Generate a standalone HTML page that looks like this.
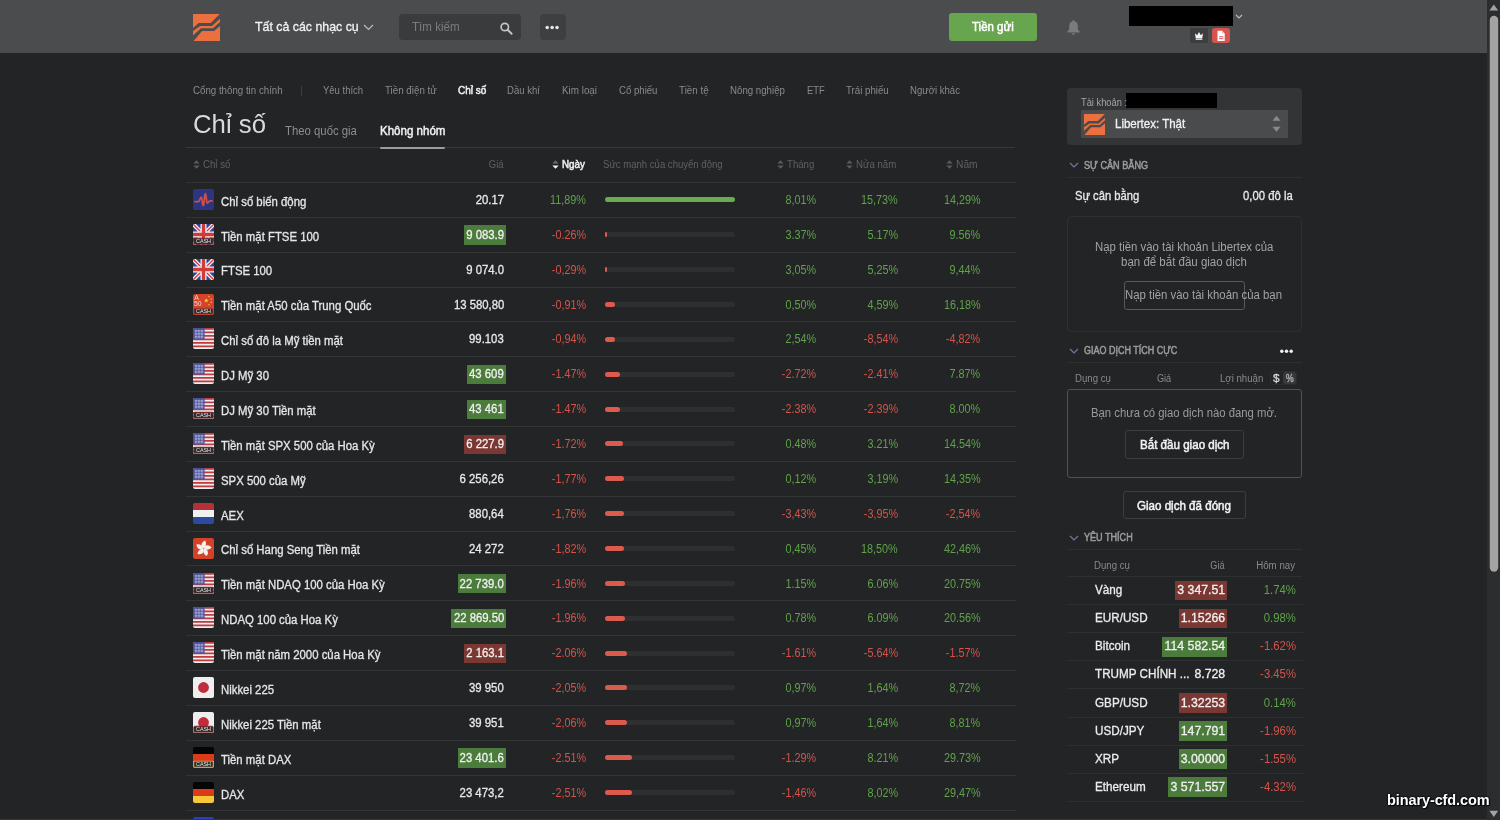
<!DOCTYPE html>
<html><head><meta charset="utf-8"><style>
html,body{margin:0;padding:0;}
body{width:1500px;height:820px;overflow:hidden;position:relative;background:#232426;font-family:"Liberation Sans", sans-serif;}
</style></head><body><div style="position:absolute;left:0;top:0;width:1500px;height:820px;will-change:transform">
<div style="position:absolute;left:0px;top:0px;width:1487px;height:53px;background:#4b4c4e;border-radius:0px;"></div>
<svg style="position:absolute;left:193px;top:14px" width="27" height="27" viewBox="0 0 27 27">
<polygon points="0,0 26.7,0 17.9,9.1 5.65,9.1 0,13.9" fill="#ec6f3f"/>
<polygon points="0,17.1 7.25,12.1 18.9,12.1 27,4.7 27,7.9 20.1,14.3 8.05,14.3 0,21.5" fill="#ec6f3f"/>
<polygon points="0.6,27 9.07,17.1 21.1,17.1 27,11.9 27,27" fill="#ec6f3f"/>
</svg>
<svg style="position:absolute;left:363px;top:24px" width="11" height="7" viewBox="0 0 11 7"><polyline points="1,1 5.5,5.5 10,1" fill="none" stroke="#bdbdbd" stroke-width="1.2"/></svg>
<div style="position:absolute;left:399px;top:14px;width:122px;height:26px;background:#3a3b3d;border-radius:4px;"></div>
<svg style="position:absolute;left:499px;top:21px" width="15" height="15" viewBox="0 0 15 15"><circle cx="5.8" cy="6" r="3.7" fill="none" stroke="#c4c4c4" stroke-width="1.7"/><line x1="8.6" y1="8.8" x2="12.6" y2="12.8" stroke="#c4c4c4" stroke-width="2" stroke-linecap="round"/></svg>
<div style="position:absolute;left:540px;top:14px;width:26px;height:26px;background:#3e3f41;border-radius:4px;"></div>
<svg style="position:absolute;left:540px;top:14px" width="26" height="26" viewBox="0 0 26 26"><circle cx="7.2" cy="13.6" r="1.75" fill="#e8e8e8"/><circle cx="12.1" cy="13.6" r="1.75" fill="#e8e8e8"/><circle cx="17" cy="13.6" r="1.75" fill="#e8e8e8"/></svg>
<div style="position:absolute;left:949px;top:13px;width:88px;height:28px;background:#68a54f;border-radius:3px;"></div>
<svg style="position:absolute;left:1066px;top:19px" width="15" height="17" viewBox="0 0 15 17"><path d="M7.5 1.2 C8.3 1.2 8.6 1.8 8.6 2.3 C10.8 2.9 11.8 4.8 11.8 7.2 L11.8 10.6 L13.6 12.6 L13.6 13.4 L1.4 13.4 L1.4 12.6 L3.2 10.6 L3.2 7.2 C3.2 4.8 4.2 2.9 6.4 2.3 C6.4 1.8 6.7 1.2 7.5 1.2 Z" fill="#7b7b7b"/><rect x="6.3" y="14" width="2.4" height="2" rx="1" fill="#7b7b7b"/></svg>
<div style="position:absolute;left:1129px;top:6px;width:104px;height:20px;background:#000000;border-radius:0px;"></div>
<svg style="position:absolute;left:1235px;top:14px" width="8" height="6" viewBox="0 0 8 6"><polyline points="1,1 4,4 7,1" fill="none" stroke="#bdbdbd" stroke-width="1.1"/></svg>
<div style="position:absolute;left:1190px;top:28px;width:18px;height:15px;background:#3c3d3f;border-radius:2px;"></div>
<svg style="position:absolute;left:1194px;top:31px" width="10" height="9" viewBox="0 0 10 9"><path d="M1 2.2 L3.2 4.2 L5 1 L6.8 4.2 L9 2.2 L8.3 7.2 L1.7 7.2 Z" fill="#f4f4f4"/><rect x="1.7" y="7.6" width="6.6" height="1.2" fill="#f4f4f4"/></svg>
<div style="position:absolute;left:1212px;top:28px;width:18px;height:15px;background:#d9534f;border-radius:3px;"></div>
<svg style="position:absolute;left:1216px;top:30px" width="10" height="12" viewBox="0 0 10 12"><path d="M1.5 0.8 L6 0.8 L8.7 3.5 L8.7 11 L1.5 11 Z" fill="#ffffff"/><path d="M6 0.8 L6 3.5 L8.7 3.5" fill="#f0c0be"/><rect x="3" y="6.3" width="4.3" height="0.9" fill="#d9534f"/><rect x="3" y="8.2" width="4.3" height="0.9" fill="#d9534f"/></svg>
<div style="position:absolute;left:1487px;top:0px;width:13px;height:820px;background:#2c2d2f;border-radius:0px;"></div>
<svg style="position:absolute;left:1487px;top:0px" width="13" height="820" viewBox="0 0 13 820"><polygon points="2.4,10.6 11.2,10.6 6.8,4.4" fill="#a3a3a3"/><polygon points="2.4,810.8 11.2,810.8 6.8,817" fill="#a3a3a3"/><rect x="2.75" y="15.8" width="8.45" height="556" rx="4.2" fill="#a3a3a3"/></svg>
<div style="position:absolute;left:301px;top:86px;width:1px;height:10px;background:#3d3e40;border-radius:0px;"></div>
<div style="position:absolute;left:186px;top:147px;width:829px;height:1px;background:#38393b;border-radius:0px;"></div>
<div style="position:absolute;left:380px;top:147px;width:65px;height:2px;background:#9c9c9c;border-radius:1px;"></div>
<svg style="position:absolute;left:193px;top:160px" width="7" height="9" viewBox="0 0 7 9"><polygon points="0.3,3.6 6.7,3.6 3.5,0.2" fill="#5a5b5d"/><polygon points="0.3,5.4 6.7,5.4 3.5,8.8" fill="#5a5b5d"/></svg>
<svg style="position:absolute;left:551.5px;top:160px" width="7" height="9" viewBox="0 0 7 9"><polygon points="0.3,3.6 6.7,3.6 3.5,0.2" fill="#6a6b6d"/><polygon points="0.3,5.4 6.7,5.4 3.5,8.8" fill="#f2f2f2"/></svg>
<svg style="position:absolute;left:777px;top:160px" width="7" height="9" viewBox="0 0 7 9"><polygon points="0.3,3.6 6.7,3.6 3.5,0.2" fill="#5a5b5d"/><polygon points="0.3,5.4 6.7,5.4 3.5,8.8" fill="#5a5b5d"/></svg>
<svg style="position:absolute;left:846px;top:160px" width="7" height="9" viewBox="0 0 7 9"><polygon points="0.3,3.6 6.7,3.6 3.5,0.2" fill="#5a5b5d"/><polygon points="0.3,5.4 6.7,5.4 3.5,8.8" fill="#5a5b5d"/></svg>
<svg style="position:absolute;left:946px;top:160px" width="7" height="9" viewBox="0 0 7 9"><polygon points="0.3,3.6 6.7,3.6 3.5,0.2" fill="#5a5b5d"/><polygon points="0.3,5.4 6.7,5.4 3.5,8.8" fill="#5a5b5d"/></svg>
<div style="position:absolute;left:186px;top:182px;width:830px;height:1px;background:#333436;border-radius:0px;"></div>
<svg style="position:absolute;left:193px;top:189px" width="21" height="21" viewBox="0 0 21 21"><rect width="21" height="21" rx="2" fill="#2c3680"/><path d="M1.9 12.6 L5.4 12.6 C6.9 12.6 7 8.2 8.1 8.2 C9.3 8.2 9.2 16.7 10.3 16.7 C11.4 16.7 11.2 4.7 12.3 4.7 C13.4 4.7 13.2 14.2 14.4 14.2 C15.4 14.2 15.6 11.9 16.9 11.9 L19 11.9" fill="none" stroke="#c9504c" stroke-width="1.8" stroke-linejoin="round" stroke-linecap="round"/></svg>
<div style="position:absolute;left:604.6px;top:197px;width:130.19999999999993px;height:5px;background:#2e2f31;border-radius:2.5px;"></div>
<div style="position:absolute;left:604.6px;top:197px;width:130.0px;height:5px;background:#6aaa50;border-radius:2.5px;"></div>
<div style="position:absolute;left:186px;top:217px;width:830px;height:1px;background:#333436;border-radius:0px;"></div>
<svg style="position:absolute;left:193px;top:224px" width="21" height="21" viewBox="0 0 21 21"><rect width="21" height="21" rx="2" fill="#2b3f9e"/><path d="M0 0 L21 21 M21 0 L0 21" stroke="#f2f2f2" stroke-width="4"/><path d="M0 0 L21 21 M21 0 L0 21" stroke="#d03a3a" stroke-width="1.4"/><path d="M10.5 0 V21 M0 10.5 H21" stroke="#f2f2f2" stroke-width="6"/><path d="M10.5 0 V21 M0 10.5 H21" stroke="#d03a3a" stroke-width="3.4"/><rect x="0.8" y="14.2" width="19.4" height="6" rx="1" fill="#2d2d2f" stroke="#8a2a2a" stroke-width="0.8"/><text x="10.5" y="19.3" text-anchor="middle" font-family="Liberation Sans" font-size="5.4" fill="#e8e8e8">CASH</text></svg>
<div style="position:absolute;left:604.6px;top:232px;width:130.19999999999993px;height:5px;background:#2e2f31;border-radius:2.5px;"></div>
<div style="position:absolute;left:604.6px;top:232px;width:2.6000000000000227px;height:5px;background:#dd5a4c;border-radius:2.5px;"></div>
<div style="position:absolute;left:186px;top:252px;width:830px;height:1px;background:#333436;border-radius:0px;"></div>
<svg style="position:absolute;left:193px;top:259px" width="21" height="21" viewBox="0 0 21 21"><rect width="21" height="21" rx="2" fill="#2b3f9e"/><path d="M0 0 L21 21 M21 0 L0 21" stroke="#f2f2f2" stroke-width="4"/><path d="M0 0 L21 21 M21 0 L0 21" stroke="#d03a3a" stroke-width="1.4"/><path d="M10.5 0 V21 M0 10.5 H21" stroke="#f2f2f2" stroke-width="6"/><path d="M10.5 0 V21 M0 10.5 H21" stroke="#d03a3a" stroke-width="3.4"/></svg>
<div style="position:absolute;left:604.6px;top:267px;width:130.19999999999993px;height:5px;background:#2e2f31;border-radius:2.5px;"></div>
<div style="position:absolute;left:604.6px;top:267px;width:2.6000000000000227px;height:5px;background:#dd5a4c;border-radius:2.5px;"></div>
<div style="position:absolute;left:186px;top:287px;width:830px;height:1px;background:#333436;border-radius:0px;"></div>
<svg style="position:absolute;left:193px;top:294px" width="21" height="21" viewBox="0 0 21 21"><rect width="21" height="21" rx="2" fill="#d4422a"/><text x="1.2" y="5.8" font-family="Liberation Sans" font-size="6.8" fill="#f4dcd2">A</text><text x="1" y="12.4" font-family="Liberation Sans" font-size="6.8" fill="#f4dcd2">50</text><polygon points="13.3,4.2 13.9,5.8 15.6,5.8 14.2,6.8 14.8,8.5 13.3,7.5 11.8,8.5 12.4,6.8 11,5.8 12.7,5.8" fill="#f4d23a"/><circle cx="16" cy="2.6" r="0.8" fill="#eeb03a"/><circle cx="18.3" cy="5" r="0.8" fill="#eeb03a"/><circle cx="18.3" cy="8.4" r="0.8" fill="#eeb03a"/><circle cx="16" cy="10.8" r="0.8" fill="#eeb03a"/><rect x="0.8" y="14.2" width="19.4" height="6" rx="1" fill="#2d2d2f" stroke="#d8402a" stroke-width="0.8"/><text x="10.5" y="19.3" text-anchor="middle" font-family="Liberation Sans" font-size="5.4" fill="#e8e8e8">CASH</text></svg>
<div style="position:absolute;left:604.6px;top:302px;width:130.19999999999993px;height:5px;background:#2e2f31;border-radius:2.5px;"></div>
<div style="position:absolute;left:604.6px;top:302px;width:10.0px;height:5px;background:#dd5a4c;border-radius:2.5px;"></div>
<div style="position:absolute;left:186px;top:321px;width:830px;height:1px;background:#333436;border-radius:0px;"></div>
<svg style="position:absolute;left:193px;top:328px" width="21" height="21" viewBox="0 0 21 21"><clipPath id="cp_5"><rect width="21" height="21" rx="2"/></clipPath><g clip-path="url(#cp_5)"><rect width="21" height="21" fill="#eeeeee"/><rect x="0" y="0.00" width="21" height="1.75" fill="#bf3b3f"/><rect x="0" y="3.50" width="21" height="1.75" fill="#bf3b3f"/><rect x="0" y="7.00" width="21" height="1.75" fill="#bf3b3f"/><rect x="0" y="10.50" width="21" height="1.75" fill="#bf3b3f"/><rect x="0" y="14.00" width="21" height="1.75" fill="#bf3b3f"/><rect x="0" y="17.50" width="21" height="1.75" fill="#bf3b3f"/><rect x="0" y="0" width="11.6" height="11.6" fill="#4b4f98"/><circle cx="2.30" cy="2.30" r="0.55" fill="#d8daf0"/><circle cx="2.30" cy="3.80" r="0.55" fill="#d8daf0"/><circle cx="2.30" cy="5.30" r="0.55" fill="#d8daf0"/><circle cx="2.30" cy="6.80" r="0.55" fill="#d8daf0"/><circle cx="2.30" cy="8.30" r="0.55" fill="#d8daf0"/><circle cx="2.30" cy="9.80" r="0.55" fill="#d8daf0"/><circle cx="3.80" cy="2.30" r="0.55" fill="#d8daf0"/><circle cx="3.80" cy="3.80" r="0.55" fill="#d8daf0"/><circle cx="3.80" cy="5.30" r="0.55" fill="#d8daf0"/><circle cx="3.80" cy="6.80" r="0.55" fill="#d8daf0"/><circle cx="3.80" cy="8.30" r="0.55" fill="#d8daf0"/><circle cx="3.80" cy="9.80" r="0.55" fill="#d8daf0"/><circle cx="5.30" cy="2.30" r="0.55" fill="#d8daf0"/><circle cx="5.30" cy="3.80" r="0.55" fill="#d8daf0"/><circle cx="5.30" cy="5.30" r="0.55" fill="#d8daf0"/><circle cx="5.30" cy="6.80" r="0.55" fill="#d8daf0"/><circle cx="5.30" cy="8.30" r="0.55" fill="#d8daf0"/><circle cx="5.30" cy="9.80" r="0.55" fill="#d8daf0"/><circle cx="6.80" cy="2.30" r="0.55" fill="#d8daf0"/><circle cx="6.80" cy="3.80" r="0.55" fill="#d8daf0"/><circle cx="6.80" cy="5.30" r="0.55" fill="#d8daf0"/><circle cx="6.80" cy="6.80" r="0.55" fill="#d8daf0"/><circle cx="6.80" cy="8.30" r="0.55" fill="#d8daf0"/><circle cx="6.80" cy="9.80" r="0.55" fill="#d8daf0"/><circle cx="8.30" cy="2.30" r="0.55" fill="#d8daf0"/><circle cx="8.30" cy="3.80" r="0.55" fill="#d8daf0"/><circle cx="8.30" cy="5.30" r="0.55" fill="#d8daf0"/><circle cx="8.30" cy="6.80" r="0.55" fill="#d8daf0"/><circle cx="8.30" cy="8.30" r="0.55" fill="#d8daf0"/><circle cx="8.30" cy="9.80" r="0.55" fill="#d8daf0"/><circle cx="9.80" cy="2.30" r="0.55" fill="#d8daf0"/><circle cx="9.80" cy="3.80" r="0.55" fill="#d8daf0"/><circle cx="9.80" cy="5.30" r="0.55" fill="#d8daf0"/><circle cx="9.80" cy="6.80" r="0.55" fill="#d8daf0"/><circle cx="9.80" cy="8.30" r="0.55" fill="#d8daf0"/><circle cx="9.80" cy="9.80" r="0.55" fill="#d8daf0"/></g></svg>
<div style="position:absolute;left:604.6px;top:337px;width:130.19999999999993px;height:5px;background:#2e2f31;border-radius:2.5px;"></div>
<div style="position:absolute;left:604.6px;top:337px;width:10.0px;height:5px;background:#dd5a4c;border-radius:2.5px;"></div>
<div style="position:absolute;left:186px;top:356px;width:830px;height:1px;background:#333436;border-radius:0px;"></div>
<svg style="position:absolute;left:193px;top:363px" width="21" height="21" viewBox="0 0 21 21"><clipPath id="cp_6"><rect width="21" height="21" rx="2"/></clipPath><g clip-path="url(#cp_6)"><rect width="21" height="21" fill="#eeeeee"/><rect x="0" y="0.00" width="21" height="1.75" fill="#bf3b3f"/><rect x="0" y="3.50" width="21" height="1.75" fill="#bf3b3f"/><rect x="0" y="7.00" width="21" height="1.75" fill="#bf3b3f"/><rect x="0" y="10.50" width="21" height="1.75" fill="#bf3b3f"/><rect x="0" y="14.00" width="21" height="1.75" fill="#bf3b3f"/><rect x="0" y="17.50" width="21" height="1.75" fill="#bf3b3f"/><rect x="0" y="0" width="11.6" height="11.6" fill="#4b4f98"/><circle cx="2.30" cy="2.30" r="0.55" fill="#d8daf0"/><circle cx="2.30" cy="3.80" r="0.55" fill="#d8daf0"/><circle cx="2.30" cy="5.30" r="0.55" fill="#d8daf0"/><circle cx="2.30" cy="6.80" r="0.55" fill="#d8daf0"/><circle cx="2.30" cy="8.30" r="0.55" fill="#d8daf0"/><circle cx="2.30" cy="9.80" r="0.55" fill="#d8daf0"/><circle cx="3.80" cy="2.30" r="0.55" fill="#d8daf0"/><circle cx="3.80" cy="3.80" r="0.55" fill="#d8daf0"/><circle cx="3.80" cy="5.30" r="0.55" fill="#d8daf0"/><circle cx="3.80" cy="6.80" r="0.55" fill="#d8daf0"/><circle cx="3.80" cy="8.30" r="0.55" fill="#d8daf0"/><circle cx="3.80" cy="9.80" r="0.55" fill="#d8daf0"/><circle cx="5.30" cy="2.30" r="0.55" fill="#d8daf0"/><circle cx="5.30" cy="3.80" r="0.55" fill="#d8daf0"/><circle cx="5.30" cy="5.30" r="0.55" fill="#d8daf0"/><circle cx="5.30" cy="6.80" r="0.55" fill="#d8daf0"/><circle cx="5.30" cy="8.30" r="0.55" fill="#d8daf0"/><circle cx="5.30" cy="9.80" r="0.55" fill="#d8daf0"/><circle cx="6.80" cy="2.30" r="0.55" fill="#d8daf0"/><circle cx="6.80" cy="3.80" r="0.55" fill="#d8daf0"/><circle cx="6.80" cy="5.30" r="0.55" fill="#d8daf0"/><circle cx="6.80" cy="6.80" r="0.55" fill="#d8daf0"/><circle cx="6.80" cy="8.30" r="0.55" fill="#d8daf0"/><circle cx="6.80" cy="9.80" r="0.55" fill="#d8daf0"/><circle cx="8.30" cy="2.30" r="0.55" fill="#d8daf0"/><circle cx="8.30" cy="3.80" r="0.55" fill="#d8daf0"/><circle cx="8.30" cy="5.30" r="0.55" fill="#d8daf0"/><circle cx="8.30" cy="6.80" r="0.55" fill="#d8daf0"/><circle cx="8.30" cy="8.30" r="0.55" fill="#d8daf0"/><circle cx="8.30" cy="9.80" r="0.55" fill="#d8daf0"/><circle cx="9.80" cy="2.30" r="0.55" fill="#d8daf0"/><circle cx="9.80" cy="3.80" r="0.55" fill="#d8daf0"/><circle cx="9.80" cy="5.30" r="0.55" fill="#d8daf0"/><circle cx="9.80" cy="6.80" r="0.55" fill="#d8daf0"/><circle cx="9.80" cy="8.30" r="0.55" fill="#d8daf0"/><circle cx="9.80" cy="9.80" r="0.55" fill="#d8daf0"/></g></svg>
<div style="position:absolute;left:604.6px;top:372px;width:130.19999999999993px;height:5px;background:#2e2f31;border-radius:2.5px;"></div>
<div style="position:absolute;left:604.6px;top:372px;width:15.0px;height:5px;background:#dd5a4c;border-radius:2.5px;"></div>
<div style="position:absolute;left:186px;top:391px;width:830px;height:1px;background:#333436;border-radius:0px;"></div>
<svg style="position:absolute;left:193px;top:398px" width="21" height="21" viewBox="0 0 21 21"><clipPath id="cp_7"><rect width="21" height="21" rx="2"/></clipPath><g clip-path="url(#cp_7)"><rect width="21" height="21" fill="#eeeeee"/><rect x="0" y="0.00" width="21" height="1.75" fill="#bf3b3f"/><rect x="0" y="3.50" width="21" height="1.75" fill="#bf3b3f"/><rect x="0" y="7.00" width="21" height="1.75" fill="#bf3b3f"/><rect x="0" y="10.50" width="21" height="1.75" fill="#bf3b3f"/><rect x="0" y="14.00" width="21" height="1.75" fill="#bf3b3f"/><rect x="0" y="17.50" width="21" height="1.75" fill="#bf3b3f"/><rect x="0" y="0" width="11.6" height="11.6" fill="#4b4f98"/><circle cx="2.30" cy="2.30" r="0.55" fill="#d8daf0"/><circle cx="2.30" cy="3.80" r="0.55" fill="#d8daf0"/><circle cx="2.30" cy="5.30" r="0.55" fill="#d8daf0"/><circle cx="2.30" cy="6.80" r="0.55" fill="#d8daf0"/><circle cx="2.30" cy="8.30" r="0.55" fill="#d8daf0"/><circle cx="2.30" cy="9.80" r="0.55" fill="#d8daf0"/><circle cx="3.80" cy="2.30" r="0.55" fill="#d8daf0"/><circle cx="3.80" cy="3.80" r="0.55" fill="#d8daf0"/><circle cx="3.80" cy="5.30" r="0.55" fill="#d8daf0"/><circle cx="3.80" cy="6.80" r="0.55" fill="#d8daf0"/><circle cx="3.80" cy="8.30" r="0.55" fill="#d8daf0"/><circle cx="3.80" cy="9.80" r="0.55" fill="#d8daf0"/><circle cx="5.30" cy="2.30" r="0.55" fill="#d8daf0"/><circle cx="5.30" cy="3.80" r="0.55" fill="#d8daf0"/><circle cx="5.30" cy="5.30" r="0.55" fill="#d8daf0"/><circle cx="5.30" cy="6.80" r="0.55" fill="#d8daf0"/><circle cx="5.30" cy="8.30" r="0.55" fill="#d8daf0"/><circle cx="5.30" cy="9.80" r="0.55" fill="#d8daf0"/><circle cx="6.80" cy="2.30" r="0.55" fill="#d8daf0"/><circle cx="6.80" cy="3.80" r="0.55" fill="#d8daf0"/><circle cx="6.80" cy="5.30" r="0.55" fill="#d8daf0"/><circle cx="6.80" cy="6.80" r="0.55" fill="#d8daf0"/><circle cx="6.80" cy="8.30" r="0.55" fill="#d8daf0"/><circle cx="6.80" cy="9.80" r="0.55" fill="#d8daf0"/><circle cx="8.30" cy="2.30" r="0.55" fill="#d8daf0"/><circle cx="8.30" cy="3.80" r="0.55" fill="#d8daf0"/><circle cx="8.30" cy="5.30" r="0.55" fill="#d8daf0"/><circle cx="8.30" cy="6.80" r="0.55" fill="#d8daf0"/><circle cx="8.30" cy="8.30" r="0.55" fill="#d8daf0"/><circle cx="8.30" cy="9.80" r="0.55" fill="#d8daf0"/><circle cx="9.80" cy="2.30" r="0.55" fill="#d8daf0"/><circle cx="9.80" cy="3.80" r="0.55" fill="#d8daf0"/><circle cx="9.80" cy="5.30" r="0.55" fill="#d8daf0"/><circle cx="9.80" cy="6.80" r="0.55" fill="#d8daf0"/><circle cx="9.80" cy="8.30" r="0.55" fill="#d8daf0"/><circle cx="9.80" cy="9.80" r="0.55" fill="#d8daf0"/></g><rect x="0.8" y="14.2" width="19.4" height="6" rx="1" fill="#2d2d2f" stroke="#8a2a2a" stroke-width="0.8"/><text x="10.5" y="19.3" text-anchor="middle" font-family="Liberation Sans" font-size="5.4" fill="#e8e8e8">CASH</text></svg>
<div style="position:absolute;left:604.6px;top:407px;width:130.19999999999993px;height:5px;background:#2e2f31;border-radius:2.5px;"></div>
<div style="position:absolute;left:604.6px;top:407px;width:15.0px;height:5px;background:#dd5a4c;border-radius:2.5px;"></div>
<div style="position:absolute;left:186px;top:426px;width:830px;height:1px;background:#333436;border-radius:0px;"></div>
<svg style="position:absolute;left:193px;top:433px" width="21" height="21" viewBox="0 0 21 21"><clipPath id="cp_8"><rect width="21" height="21" rx="2"/></clipPath><g clip-path="url(#cp_8)"><rect width="21" height="21" fill="#eeeeee"/><rect x="0" y="0.00" width="21" height="1.75" fill="#bf3b3f"/><rect x="0" y="3.50" width="21" height="1.75" fill="#bf3b3f"/><rect x="0" y="7.00" width="21" height="1.75" fill="#bf3b3f"/><rect x="0" y="10.50" width="21" height="1.75" fill="#bf3b3f"/><rect x="0" y="14.00" width="21" height="1.75" fill="#bf3b3f"/><rect x="0" y="17.50" width="21" height="1.75" fill="#bf3b3f"/><rect x="0" y="0" width="11.6" height="11.6" fill="#4b4f98"/><circle cx="2.30" cy="2.30" r="0.55" fill="#d8daf0"/><circle cx="2.30" cy="3.80" r="0.55" fill="#d8daf0"/><circle cx="2.30" cy="5.30" r="0.55" fill="#d8daf0"/><circle cx="2.30" cy="6.80" r="0.55" fill="#d8daf0"/><circle cx="2.30" cy="8.30" r="0.55" fill="#d8daf0"/><circle cx="2.30" cy="9.80" r="0.55" fill="#d8daf0"/><circle cx="3.80" cy="2.30" r="0.55" fill="#d8daf0"/><circle cx="3.80" cy="3.80" r="0.55" fill="#d8daf0"/><circle cx="3.80" cy="5.30" r="0.55" fill="#d8daf0"/><circle cx="3.80" cy="6.80" r="0.55" fill="#d8daf0"/><circle cx="3.80" cy="8.30" r="0.55" fill="#d8daf0"/><circle cx="3.80" cy="9.80" r="0.55" fill="#d8daf0"/><circle cx="5.30" cy="2.30" r="0.55" fill="#d8daf0"/><circle cx="5.30" cy="3.80" r="0.55" fill="#d8daf0"/><circle cx="5.30" cy="5.30" r="0.55" fill="#d8daf0"/><circle cx="5.30" cy="6.80" r="0.55" fill="#d8daf0"/><circle cx="5.30" cy="8.30" r="0.55" fill="#d8daf0"/><circle cx="5.30" cy="9.80" r="0.55" fill="#d8daf0"/><circle cx="6.80" cy="2.30" r="0.55" fill="#d8daf0"/><circle cx="6.80" cy="3.80" r="0.55" fill="#d8daf0"/><circle cx="6.80" cy="5.30" r="0.55" fill="#d8daf0"/><circle cx="6.80" cy="6.80" r="0.55" fill="#d8daf0"/><circle cx="6.80" cy="8.30" r="0.55" fill="#d8daf0"/><circle cx="6.80" cy="9.80" r="0.55" fill="#d8daf0"/><circle cx="8.30" cy="2.30" r="0.55" fill="#d8daf0"/><circle cx="8.30" cy="3.80" r="0.55" fill="#d8daf0"/><circle cx="8.30" cy="5.30" r="0.55" fill="#d8daf0"/><circle cx="8.30" cy="6.80" r="0.55" fill="#d8daf0"/><circle cx="8.30" cy="8.30" r="0.55" fill="#d8daf0"/><circle cx="8.30" cy="9.80" r="0.55" fill="#d8daf0"/><circle cx="9.80" cy="2.30" r="0.55" fill="#d8daf0"/><circle cx="9.80" cy="3.80" r="0.55" fill="#d8daf0"/><circle cx="9.80" cy="5.30" r="0.55" fill="#d8daf0"/><circle cx="9.80" cy="6.80" r="0.55" fill="#d8daf0"/><circle cx="9.80" cy="8.30" r="0.55" fill="#d8daf0"/><circle cx="9.80" cy="9.80" r="0.55" fill="#d8daf0"/></g><rect x="0.8" y="14.2" width="19.4" height="6" rx="1" fill="#2d2d2f" stroke="#8a2a2a" stroke-width="0.8"/><text x="10.5" y="19.3" text-anchor="middle" font-family="Liberation Sans" font-size="5.4" fill="#e8e8e8">CASH</text></svg>
<div style="position:absolute;left:604.6px;top:441px;width:130.19999999999993px;height:5px;background:#2e2f31;border-radius:2.5px;"></div>
<div style="position:absolute;left:604.6px;top:441px;width:18.0px;height:5px;background:#dd5a4c;border-radius:2.5px;"></div>
<div style="position:absolute;left:186px;top:461px;width:830px;height:1px;background:#333436;border-radius:0px;"></div>
<svg style="position:absolute;left:193px;top:468px" width="21" height="21" viewBox="0 0 21 21"><clipPath id="cp_9"><rect width="21" height="21" rx="2"/></clipPath><g clip-path="url(#cp_9)"><rect width="21" height="21" fill="#eeeeee"/><rect x="0" y="0.00" width="21" height="1.75" fill="#bf3b3f"/><rect x="0" y="3.50" width="21" height="1.75" fill="#bf3b3f"/><rect x="0" y="7.00" width="21" height="1.75" fill="#bf3b3f"/><rect x="0" y="10.50" width="21" height="1.75" fill="#bf3b3f"/><rect x="0" y="14.00" width="21" height="1.75" fill="#bf3b3f"/><rect x="0" y="17.50" width="21" height="1.75" fill="#bf3b3f"/><rect x="0" y="0" width="11.6" height="11.6" fill="#4b4f98"/><circle cx="2.30" cy="2.30" r="0.55" fill="#d8daf0"/><circle cx="2.30" cy="3.80" r="0.55" fill="#d8daf0"/><circle cx="2.30" cy="5.30" r="0.55" fill="#d8daf0"/><circle cx="2.30" cy="6.80" r="0.55" fill="#d8daf0"/><circle cx="2.30" cy="8.30" r="0.55" fill="#d8daf0"/><circle cx="2.30" cy="9.80" r="0.55" fill="#d8daf0"/><circle cx="3.80" cy="2.30" r="0.55" fill="#d8daf0"/><circle cx="3.80" cy="3.80" r="0.55" fill="#d8daf0"/><circle cx="3.80" cy="5.30" r="0.55" fill="#d8daf0"/><circle cx="3.80" cy="6.80" r="0.55" fill="#d8daf0"/><circle cx="3.80" cy="8.30" r="0.55" fill="#d8daf0"/><circle cx="3.80" cy="9.80" r="0.55" fill="#d8daf0"/><circle cx="5.30" cy="2.30" r="0.55" fill="#d8daf0"/><circle cx="5.30" cy="3.80" r="0.55" fill="#d8daf0"/><circle cx="5.30" cy="5.30" r="0.55" fill="#d8daf0"/><circle cx="5.30" cy="6.80" r="0.55" fill="#d8daf0"/><circle cx="5.30" cy="8.30" r="0.55" fill="#d8daf0"/><circle cx="5.30" cy="9.80" r="0.55" fill="#d8daf0"/><circle cx="6.80" cy="2.30" r="0.55" fill="#d8daf0"/><circle cx="6.80" cy="3.80" r="0.55" fill="#d8daf0"/><circle cx="6.80" cy="5.30" r="0.55" fill="#d8daf0"/><circle cx="6.80" cy="6.80" r="0.55" fill="#d8daf0"/><circle cx="6.80" cy="8.30" r="0.55" fill="#d8daf0"/><circle cx="6.80" cy="9.80" r="0.55" fill="#d8daf0"/><circle cx="8.30" cy="2.30" r="0.55" fill="#d8daf0"/><circle cx="8.30" cy="3.80" r="0.55" fill="#d8daf0"/><circle cx="8.30" cy="5.30" r="0.55" fill="#d8daf0"/><circle cx="8.30" cy="6.80" r="0.55" fill="#d8daf0"/><circle cx="8.30" cy="8.30" r="0.55" fill="#d8daf0"/><circle cx="8.30" cy="9.80" r="0.55" fill="#d8daf0"/><circle cx="9.80" cy="2.30" r="0.55" fill="#d8daf0"/><circle cx="9.80" cy="3.80" r="0.55" fill="#d8daf0"/><circle cx="9.80" cy="5.30" r="0.55" fill="#d8daf0"/><circle cx="9.80" cy="6.80" r="0.55" fill="#d8daf0"/><circle cx="9.80" cy="8.30" r="0.55" fill="#d8daf0"/><circle cx="9.80" cy="9.80" r="0.55" fill="#d8daf0"/></g></svg>
<div style="position:absolute;left:604.6px;top:476px;width:130.19999999999993px;height:5px;background:#2e2f31;border-radius:2.5px;"></div>
<div style="position:absolute;left:604.6px;top:476px;width:19.5px;height:5px;background:#dd5a4c;border-radius:2.5px;"></div>
<div style="position:absolute;left:186px;top:496px;width:830px;height:1px;background:#333436;border-radius:0px;"></div>
<svg style="position:absolute;left:193px;top:503px" width="21" height="21" viewBox="0 0 21 21"><clipPath id="cp_10"><rect width="21" height="21" rx="2"/></clipPath><g clip-path="url(#cp_10)"><rect width="21" height="7" fill="#b5303a"/><rect y="7" width="21" height="7" fill="#f0f0f0"/><rect y="14" width="21" height="7" fill="#2c4ba0"/></g></svg>
<div style="position:absolute;left:604.6px;top:511px;width:130.19999999999993px;height:5px;background:#2e2f31;border-radius:2.5px;"></div>
<div style="position:absolute;left:604.6px;top:511px;width:19.5px;height:5px;background:#dd5a4c;border-radius:2.5px;"></div>
<div style="position:absolute;left:186px;top:531px;width:830px;height:1px;background:#333436;border-radius:0px;"></div>
<svg style="position:absolute;left:193px;top:538px" width="21" height="21" viewBox="0 0 21 21"><rect width="21" height="21" rx="2" fill="#d24226"/><path d="M10.4 10.2 C7.3 8.8 7.5 4.4 11.5 2.5 C13.3 4.8 13.1 8.7 10.4 10.2 Z" transform="rotate(4 10.5 10.5)" fill="#f8f0ee"/><path d="M10.4 10.2 C7.3 8.8 7.5 4.4 11.5 2.5 C13.3 4.8 13.1 8.7 10.4 10.2 Z" transform="rotate(76 10.5 10.5)" fill="#f8f0ee"/><path d="M10.4 10.2 C7.3 8.8 7.5 4.4 11.5 2.5 C13.3 4.8 13.1 8.7 10.4 10.2 Z" transform="rotate(148 10.5 10.5)" fill="#f8f0ee"/><path d="M10.4 10.2 C7.3 8.8 7.5 4.4 11.5 2.5 C13.3 4.8 13.1 8.7 10.4 10.2 Z" transform="rotate(220 10.5 10.5)" fill="#f8f0ee"/><path d="M10.4 10.2 C7.3 8.8 7.5 4.4 11.5 2.5 C13.3 4.8 13.1 8.7 10.4 10.2 Z" transform="rotate(292 10.5 10.5)" fill="#f8f0ee"/></svg>
<div style="position:absolute;left:604.6px;top:546px;width:130.19999999999993px;height:5px;background:#2e2f31;border-radius:2.5px;"></div>
<div style="position:absolute;left:604.6px;top:546px;width:19.5px;height:5px;background:#dd5a4c;border-radius:2.5px;"></div>
<div style="position:absolute;left:186px;top:565px;width:830px;height:1px;background:#333436;border-radius:0px;"></div>
<svg style="position:absolute;left:193px;top:573px" width="21" height="21" viewBox="0 0 21 21"><clipPath id="cp_12"><rect width="21" height="21" rx="2"/></clipPath><g clip-path="url(#cp_12)"><rect width="21" height="21" fill="#eeeeee"/><rect x="0" y="0.00" width="21" height="1.75" fill="#bf3b3f"/><rect x="0" y="3.50" width="21" height="1.75" fill="#bf3b3f"/><rect x="0" y="7.00" width="21" height="1.75" fill="#bf3b3f"/><rect x="0" y="10.50" width="21" height="1.75" fill="#bf3b3f"/><rect x="0" y="14.00" width="21" height="1.75" fill="#bf3b3f"/><rect x="0" y="17.50" width="21" height="1.75" fill="#bf3b3f"/><rect x="0" y="0" width="11.6" height="11.6" fill="#4b4f98"/><circle cx="2.30" cy="2.30" r="0.55" fill="#d8daf0"/><circle cx="2.30" cy="3.80" r="0.55" fill="#d8daf0"/><circle cx="2.30" cy="5.30" r="0.55" fill="#d8daf0"/><circle cx="2.30" cy="6.80" r="0.55" fill="#d8daf0"/><circle cx="2.30" cy="8.30" r="0.55" fill="#d8daf0"/><circle cx="2.30" cy="9.80" r="0.55" fill="#d8daf0"/><circle cx="3.80" cy="2.30" r="0.55" fill="#d8daf0"/><circle cx="3.80" cy="3.80" r="0.55" fill="#d8daf0"/><circle cx="3.80" cy="5.30" r="0.55" fill="#d8daf0"/><circle cx="3.80" cy="6.80" r="0.55" fill="#d8daf0"/><circle cx="3.80" cy="8.30" r="0.55" fill="#d8daf0"/><circle cx="3.80" cy="9.80" r="0.55" fill="#d8daf0"/><circle cx="5.30" cy="2.30" r="0.55" fill="#d8daf0"/><circle cx="5.30" cy="3.80" r="0.55" fill="#d8daf0"/><circle cx="5.30" cy="5.30" r="0.55" fill="#d8daf0"/><circle cx="5.30" cy="6.80" r="0.55" fill="#d8daf0"/><circle cx="5.30" cy="8.30" r="0.55" fill="#d8daf0"/><circle cx="5.30" cy="9.80" r="0.55" fill="#d8daf0"/><circle cx="6.80" cy="2.30" r="0.55" fill="#d8daf0"/><circle cx="6.80" cy="3.80" r="0.55" fill="#d8daf0"/><circle cx="6.80" cy="5.30" r="0.55" fill="#d8daf0"/><circle cx="6.80" cy="6.80" r="0.55" fill="#d8daf0"/><circle cx="6.80" cy="8.30" r="0.55" fill="#d8daf0"/><circle cx="6.80" cy="9.80" r="0.55" fill="#d8daf0"/><circle cx="8.30" cy="2.30" r="0.55" fill="#d8daf0"/><circle cx="8.30" cy="3.80" r="0.55" fill="#d8daf0"/><circle cx="8.30" cy="5.30" r="0.55" fill="#d8daf0"/><circle cx="8.30" cy="6.80" r="0.55" fill="#d8daf0"/><circle cx="8.30" cy="8.30" r="0.55" fill="#d8daf0"/><circle cx="8.30" cy="9.80" r="0.55" fill="#d8daf0"/><circle cx="9.80" cy="2.30" r="0.55" fill="#d8daf0"/><circle cx="9.80" cy="3.80" r="0.55" fill="#d8daf0"/><circle cx="9.80" cy="5.30" r="0.55" fill="#d8daf0"/><circle cx="9.80" cy="6.80" r="0.55" fill="#d8daf0"/><circle cx="9.80" cy="8.30" r="0.55" fill="#d8daf0"/><circle cx="9.80" cy="9.80" r="0.55" fill="#d8daf0"/></g><rect x="0.8" y="14.2" width="19.4" height="6" rx="1" fill="#2d2d2f" stroke="#8a2a2a" stroke-width="0.8"/><text x="10.5" y="19.3" text-anchor="middle" font-family="Liberation Sans" font-size="5.4" fill="#e8e8e8">CASH</text></svg>
<div style="position:absolute;left:604.6px;top:581px;width:130.19999999999993px;height:5px;background:#2e2f31;border-radius:2.5px;"></div>
<div style="position:absolute;left:604.6px;top:581px;width:20.5px;height:5px;background:#dd5a4c;border-radius:2.5px;"></div>
<div style="position:absolute;left:186px;top:600px;width:830px;height:1px;background:#333436;border-radius:0px;"></div>
<svg style="position:absolute;left:193px;top:607px" width="21" height="21" viewBox="0 0 21 21"><clipPath id="cp_13"><rect width="21" height="21" rx="2"/></clipPath><g clip-path="url(#cp_13)"><rect width="21" height="21" fill="#eeeeee"/><rect x="0" y="0.00" width="21" height="1.75" fill="#bf3b3f"/><rect x="0" y="3.50" width="21" height="1.75" fill="#bf3b3f"/><rect x="0" y="7.00" width="21" height="1.75" fill="#bf3b3f"/><rect x="0" y="10.50" width="21" height="1.75" fill="#bf3b3f"/><rect x="0" y="14.00" width="21" height="1.75" fill="#bf3b3f"/><rect x="0" y="17.50" width="21" height="1.75" fill="#bf3b3f"/><rect x="0" y="0" width="11.6" height="11.6" fill="#4b4f98"/><circle cx="2.30" cy="2.30" r="0.55" fill="#d8daf0"/><circle cx="2.30" cy="3.80" r="0.55" fill="#d8daf0"/><circle cx="2.30" cy="5.30" r="0.55" fill="#d8daf0"/><circle cx="2.30" cy="6.80" r="0.55" fill="#d8daf0"/><circle cx="2.30" cy="8.30" r="0.55" fill="#d8daf0"/><circle cx="2.30" cy="9.80" r="0.55" fill="#d8daf0"/><circle cx="3.80" cy="2.30" r="0.55" fill="#d8daf0"/><circle cx="3.80" cy="3.80" r="0.55" fill="#d8daf0"/><circle cx="3.80" cy="5.30" r="0.55" fill="#d8daf0"/><circle cx="3.80" cy="6.80" r="0.55" fill="#d8daf0"/><circle cx="3.80" cy="8.30" r="0.55" fill="#d8daf0"/><circle cx="3.80" cy="9.80" r="0.55" fill="#d8daf0"/><circle cx="5.30" cy="2.30" r="0.55" fill="#d8daf0"/><circle cx="5.30" cy="3.80" r="0.55" fill="#d8daf0"/><circle cx="5.30" cy="5.30" r="0.55" fill="#d8daf0"/><circle cx="5.30" cy="6.80" r="0.55" fill="#d8daf0"/><circle cx="5.30" cy="8.30" r="0.55" fill="#d8daf0"/><circle cx="5.30" cy="9.80" r="0.55" fill="#d8daf0"/><circle cx="6.80" cy="2.30" r="0.55" fill="#d8daf0"/><circle cx="6.80" cy="3.80" r="0.55" fill="#d8daf0"/><circle cx="6.80" cy="5.30" r="0.55" fill="#d8daf0"/><circle cx="6.80" cy="6.80" r="0.55" fill="#d8daf0"/><circle cx="6.80" cy="8.30" r="0.55" fill="#d8daf0"/><circle cx="6.80" cy="9.80" r="0.55" fill="#d8daf0"/><circle cx="8.30" cy="2.30" r="0.55" fill="#d8daf0"/><circle cx="8.30" cy="3.80" r="0.55" fill="#d8daf0"/><circle cx="8.30" cy="5.30" r="0.55" fill="#d8daf0"/><circle cx="8.30" cy="6.80" r="0.55" fill="#d8daf0"/><circle cx="8.30" cy="8.30" r="0.55" fill="#d8daf0"/><circle cx="8.30" cy="9.80" r="0.55" fill="#d8daf0"/><circle cx="9.80" cy="2.30" r="0.55" fill="#d8daf0"/><circle cx="9.80" cy="3.80" r="0.55" fill="#d8daf0"/><circle cx="9.80" cy="5.30" r="0.55" fill="#d8daf0"/><circle cx="9.80" cy="6.80" r="0.55" fill="#d8daf0"/><circle cx="9.80" cy="8.30" r="0.55" fill="#d8daf0"/><circle cx="9.80" cy="9.80" r="0.55" fill="#d8daf0"/></g></svg>
<div style="position:absolute;left:604.6px;top:616px;width:130.19999999999993px;height:5px;background:#2e2f31;border-radius:2.5px;"></div>
<div style="position:absolute;left:604.6px;top:616px;width:20.5px;height:5px;background:#dd5a4c;border-radius:2.5px;"></div>
<div style="position:absolute;left:186px;top:635px;width:830px;height:1px;background:#333436;border-radius:0px;"></div>
<svg style="position:absolute;left:193px;top:642px" width="21" height="21" viewBox="0 0 21 21"><clipPath id="cp_14"><rect width="21" height="21" rx="2"/></clipPath><g clip-path="url(#cp_14)"><rect width="21" height="21" fill="#eeeeee"/><rect x="0" y="0.00" width="21" height="1.75" fill="#bf3b3f"/><rect x="0" y="3.50" width="21" height="1.75" fill="#bf3b3f"/><rect x="0" y="7.00" width="21" height="1.75" fill="#bf3b3f"/><rect x="0" y="10.50" width="21" height="1.75" fill="#bf3b3f"/><rect x="0" y="14.00" width="21" height="1.75" fill="#bf3b3f"/><rect x="0" y="17.50" width="21" height="1.75" fill="#bf3b3f"/><rect x="0" y="0" width="11.6" height="11.6" fill="#4b4f98"/><circle cx="2.30" cy="2.30" r="0.55" fill="#d8daf0"/><circle cx="2.30" cy="3.80" r="0.55" fill="#d8daf0"/><circle cx="2.30" cy="5.30" r="0.55" fill="#d8daf0"/><circle cx="2.30" cy="6.80" r="0.55" fill="#d8daf0"/><circle cx="2.30" cy="8.30" r="0.55" fill="#d8daf0"/><circle cx="2.30" cy="9.80" r="0.55" fill="#d8daf0"/><circle cx="3.80" cy="2.30" r="0.55" fill="#d8daf0"/><circle cx="3.80" cy="3.80" r="0.55" fill="#d8daf0"/><circle cx="3.80" cy="5.30" r="0.55" fill="#d8daf0"/><circle cx="3.80" cy="6.80" r="0.55" fill="#d8daf0"/><circle cx="3.80" cy="8.30" r="0.55" fill="#d8daf0"/><circle cx="3.80" cy="9.80" r="0.55" fill="#d8daf0"/><circle cx="5.30" cy="2.30" r="0.55" fill="#d8daf0"/><circle cx="5.30" cy="3.80" r="0.55" fill="#d8daf0"/><circle cx="5.30" cy="5.30" r="0.55" fill="#d8daf0"/><circle cx="5.30" cy="6.80" r="0.55" fill="#d8daf0"/><circle cx="5.30" cy="8.30" r="0.55" fill="#d8daf0"/><circle cx="5.30" cy="9.80" r="0.55" fill="#d8daf0"/><circle cx="6.80" cy="2.30" r="0.55" fill="#d8daf0"/><circle cx="6.80" cy="3.80" r="0.55" fill="#d8daf0"/><circle cx="6.80" cy="5.30" r="0.55" fill="#d8daf0"/><circle cx="6.80" cy="6.80" r="0.55" fill="#d8daf0"/><circle cx="6.80" cy="8.30" r="0.55" fill="#d8daf0"/><circle cx="6.80" cy="9.80" r="0.55" fill="#d8daf0"/><circle cx="8.30" cy="2.30" r="0.55" fill="#d8daf0"/><circle cx="8.30" cy="3.80" r="0.55" fill="#d8daf0"/><circle cx="8.30" cy="5.30" r="0.55" fill="#d8daf0"/><circle cx="8.30" cy="6.80" r="0.55" fill="#d8daf0"/><circle cx="8.30" cy="8.30" r="0.55" fill="#d8daf0"/><circle cx="8.30" cy="9.80" r="0.55" fill="#d8daf0"/><circle cx="9.80" cy="2.30" r="0.55" fill="#d8daf0"/><circle cx="9.80" cy="3.80" r="0.55" fill="#d8daf0"/><circle cx="9.80" cy="5.30" r="0.55" fill="#d8daf0"/><circle cx="9.80" cy="6.80" r="0.55" fill="#d8daf0"/><circle cx="9.80" cy="8.30" r="0.55" fill="#d8daf0"/><circle cx="9.80" cy="9.80" r="0.55" fill="#d8daf0"/></g></svg>
<div style="position:absolute;left:604.6px;top:651px;width:130.19999999999993px;height:5px;background:#2e2f31;border-radius:2.5px;"></div>
<div style="position:absolute;left:604.6px;top:651px;width:22.0px;height:5px;background:#dd5a4c;border-radius:2.5px;"></div>
<div style="position:absolute;left:186px;top:670px;width:830px;height:1px;background:#333436;border-radius:0px;"></div>
<svg style="position:absolute;left:193px;top:677px" width="21" height="21" viewBox="0 0 21 21"><rect width="21" height="21" rx="2" fill="#eeeeee"/><circle cx="10.5" cy="10.5" r="5.4" fill="#c22c3a"/></svg>
<div style="position:absolute;left:604.6px;top:685px;width:130.19999999999993px;height:5px;background:#2e2f31;border-radius:2.5px;"></div>
<div style="position:absolute;left:604.6px;top:685px;width:22.0px;height:5px;background:#dd5a4c;border-radius:2.5px;"></div>
<div style="position:absolute;left:186px;top:705px;width:830px;height:1px;background:#333436;border-radius:0px;"></div>
<svg style="position:absolute;left:193px;top:712px" width="21" height="21" viewBox="0 0 21 21"><rect width="21" height="21" rx="2" fill="#eeeeee"/><circle cx="10.5" cy="10.5" r="5.4" fill="#c22c3a"/><rect x="0.8" y="14.2" width="19.4" height="6" rx="1" fill="#2d2d2f" stroke="#8a2a2a" stroke-width="0.8"/><text x="10.5" y="19.3" text-anchor="middle" font-family="Liberation Sans" font-size="5.4" fill="#e8e8e8">CASH</text></svg>
<div style="position:absolute;left:604.6px;top:720px;width:130.19999999999993px;height:5px;background:#2e2f31;border-radius:2.5px;"></div>
<div style="position:absolute;left:604.6px;top:720px;width:22.0px;height:5px;background:#dd5a4c;border-radius:2.5px;"></div>
<div style="position:absolute;left:186px;top:740px;width:830px;height:1px;background:#333436;border-radius:0px;"></div>
<svg style="position:absolute;left:193px;top:747px" width="21" height="21" viewBox="0 0 21 21"><clipPath id="cp_17"><rect width="21" height="21" rx="2"/></clipPath><g clip-path="url(#cp_17)"><rect width="21" height="7" fill="#050505"/><rect y="7" width="21" height="7" fill="#dd3a1a"/><rect y="14" width="21" height="7" fill="#f5c83a"/></g><rect x="0.8" y="14.2" width="19.4" height="6" rx="1" fill="#2d2d2f" stroke="#c9a83a" stroke-width="0.8"/><text x="10.5" y="19.3" text-anchor="middle" font-family="Liberation Sans" font-size="5.4" fill="#e8e8e8">CASH</text></svg>
<div style="position:absolute;left:604.6px;top:755px;width:130.19999999999993px;height:5px;background:#2e2f31;border-radius:2.5px;"></div>
<div style="position:absolute;left:604.6px;top:755px;width:27.0px;height:5px;background:#dd5a4c;border-radius:2.5px;"></div>
<div style="position:absolute;left:186px;top:775px;width:830px;height:1px;background:#333436;border-radius:0px;"></div>
<svg style="position:absolute;left:193px;top:782px" width="21" height="21" viewBox="0 0 21 21"><clipPath id="cp_18"><rect width="21" height="21" rx="2"/></clipPath><g clip-path="url(#cp_18)"><rect width="21" height="7" fill="#050505"/><rect y="7" width="21" height="7" fill="#dd3a1a"/><rect y="14" width="21" height="7" fill="#f5c83a"/></g></svg>
<div style="position:absolute;left:604.6px;top:790px;width:130.19999999999993px;height:5px;background:#2e2f31;border-radius:2.5px;"></div>
<div style="position:absolute;left:604.6px;top:790px;width:27.0px;height:5px;background:#dd5a4c;border-radius:2.5px;"></div>
<div style="position:absolute;left:186px;top:810px;width:830px;height:1px;background:#333436;border-radius:0px;"></div>
<svg style="position:absolute;left:193px;top:817px" width="21" height="21" viewBox="0 0 21 21"><rect width="21" height="21" rx="2" fill="#2a3fbf"/></svg>
<div style="position:absolute;left:1067px;top:88px;width:235px;height:57px;background:#333436;border-radius:4px;"></div>
<div style="position:absolute;left:1126px;top:93px;width:91px;height:15px;background:#000000;border-radius:0px;"></div>
<div style="position:absolute;left:1081px;top:110px;width:207px;height:28px;background:#4a4b4d;border-radius:1px;"></div>
<svg style="position:absolute;left:1084px;top:114px" width="21" height="21" viewBox="0 0 27 27">
<polygon points="0,0 26.7,0 17.9,9.1 5.65,9.1 0,13.9" fill="#ec6f3f"/>
<polygon points="0,17.1 7.25,12.1 18.9,12.1 27,4.7 27,7.9 20.1,14.3 8.05,14.3 0,21.5" fill="#ec6f3f"/>
<polygon points="0.6,27 9.07,17.1 21.1,17.1 27,11.9 27,27" fill="#ec6f3f"/>
</svg>
<svg style="position:absolute;left:1271px;top:114px" width="11" height="20" viewBox="0 0 11 20"><polygon points="1.5,6.8 9.5,6.8 5.5,1.8" fill="#8a8a8a"/><polygon points="1.5,12.8 9.5,12.8 5.5,17.8" fill="#8a8a8a"/></svg>
<svg style="position:absolute;left:1069px;top:162px" width="10" height="7" viewBox="0 0 10 7"><polyline points="1,1 5,5 9,1" fill="none" stroke="#6c79a6" stroke-width="1.2"/></svg>
<div style="position:absolute;left:1067px;top:177px;width:235px;height:1px;background:#2e2f31;border-radius:0px;"></div>
<div style="position:absolute;left:1067px;top:216px;width:233px;height:114px;border:1px solid #2e2f31;border-radius:4px"></div>
<div style="position:absolute;left:1124px;top:281px;width:119px;height:27px;border:1px solid #59595b;border-radius:3px"></div>
<svg style="position:absolute;left:1069px;top:348px" width="10" height="7" viewBox="0 0 10 7"><polyline points="1,1 5,5 9,1" fill="none" stroke="#6c79a6" stroke-width="1.2"/></svg>
<svg style="position:absolute;left:1276px;top:345px" width="22" height="12" viewBox="0 0 22 12"><circle cx="5.8" cy="6.2" r="1.75" fill="#f0f0f0"/><circle cx="10.5" cy="6.2" r="1.75" fill="#f0f0f0"/><circle cx="15.2" cy="6.2" r="1.75" fill="#f0f0f0"/></svg>
<div style="position:absolute;left:1067px;top:362px;width:235px;height:1px;background:#2e2f31;border-radius:0px;"></div>
<div style="position:absolute;left:1270px;top:371px;width:25px;height:12px;border:1px solid #2c2d2f;border-radius:3px;background:#232426"></div>
<div style="position:absolute;left:1283px;top:372px;width:13px;height:12px;background:#37383a;border-radius:2px;"></div>
<div style="position:absolute;left:1067px;top:389px;width:233px;height:87px;border:1px solid #505153;border-radius:3px"></div>
<div style="position:absolute;left:1125px;top:430px;width:117px;height:27px;border:1px solid #3c3d3f;border-radius:3px"></div>
<div style="position:absolute;left:1123px;top:491px;width:121px;height:26px;border:1px solid #3c3d3f;border-radius:3px"></div>
<svg style="position:absolute;left:1069px;top:535px" width="10" height="7" viewBox="0 0 10 7"><polyline points="1,1 5,5 9,1" fill="none" stroke="#6c79a6" stroke-width="1.2"/></svg>
<div style="position:absolute;left:1067px;top:549px;width:235px;height:1px;background:#2e2f31;border-radius:0px;"></div>
<div style="position:absolute;left:1067px;top:576px;width:235px;height:1px;background:#2e2f31;border-radius:0px;"></div>
<div style="position:absolute;left:1067px;top:604px;width:236px;height:1px;background:#2e2f31;border-radius:0px;"></div>
<div style="position:absolute;left:1067px;top:632px;width:236px;height:1px;background:#2e2f31;border-radius:0px;"></div>
<div style="position:absolute;left:1067px;top:660px;width:236px;height:1px;background:#2e2f31;border-radius:0px;"></div>
<div style="position:absolute;left:1067px;top:688px;width:236px;height:1px;background:#2e2f31;border-radius:0px;"></div>
<div style="position:absolute;left:1067px;top:717px;width:236px;height:1px;background:#2e2f31;border-radius:0px;"></div>
<div style="position:absolute;left:1067px;top:745px;width:236px;height:1px;background:#2e2f31;border-radius:0px;"></div>
<div style="position:absolute;left:1067px;top:773px;width:236px;height:1px;background:#2e2f31;border-radius:0px;"></div>
<div style="position:absolute;left:1067px;top:801px;width:236px;height:1px;background:#2e2f31;border-radius:0px;"></div>
<div style="position:absolute;left:0px;top:819px;width:1487px;height:1px;background:#3a3734;border-radius:0px;"></div>
<div style="position:absolute;left:464.0px;top:225.3px;width:41.9px;height:19.3px;background:#4b7c3c"></div>
<div style="position:absolute;left:467.1px;top:364.8px;width:38.8px;height:19.3px;background:#4b7c3c"></div>
<div style="position:absolute;left:467.1px;top:399.6px;width:38.8px;height:19.3px;background:#4b7c3c"></div>
<div style="position:absolute;left:464.0px;top:434.5px;width:41.9px;height:19.3px;background:#7b3833"></div>
<div style="position:absolute;left:457.7px;top:574.0px;width:48.2px;height:19.3px;background:#4b7c3c"></div>
<div style="position:absolute;left:451.4px;top:608.9px;width:54.6px;height:19.3px;background:#4b7c3c"></div>
<div style="position:absolute;left:464.0px;top:643.7px;width:41.9px;height:19.3px;background:#7b3833"></div>
<div style="position:absolute;left:457.7px;top:748.3px;width:48.2px;height:19.3px;background:#4b7c3c"></div>
<div style="position:absolute;left:1175.0px;top:580.9px;width:52.0px;height:19.5px;background:#7b3833"></div>
<div style="position:absolute;left:1178.5px;top:608.9px;width:48.6px;height:19.5px;background:#7b3833"></div>
<div style="position:absolute;left:1162.3px;top:637.0px;width:64.7px;height:19.5px;background:#4b7c3c"></div>
<div style="position:absolute;left:1178.5px;top:693.1px;width:48.6px;height:19.5px;background:#7b3833"></div>
<div style="position:absolute;left:1178.5px;top:721.1px;width:48.6px;height:19.5px;background:#4b7c3c"></div>
<div style="position:absolute;left:1178.5px;top:749.2px;width:48.6px;height:19.5px;background:#4b7c3c"></div>
<div style="position:absolute;left:1168.2px;top:777.2px;width:58.8px;height:19.5px;background:#4b7c3c"></div>
<span id="t0" style="position:absolute;top:16.50px;font-size:13px;line-height:20px;color:#f2f2f2;white-space:nowrap;-webkit-text-stroke:0.3px #f2f2f2;left:254.73px;transform:scaleX(0.9507);transform-origin:0 0;">Tất cả các nhạc cụ</span>
<span id="t1" style="position:absolute;top:17.04px;font-size:12px;line-height:20px;color:#7c7c7c;white-space:nowrap;left:412.22px;transform:scaleX(0.9659);transform-origin:0 0;">Tìm kiếm</span>
<span id="t2" style="position:absolute;top:16.84px;font-size:12px;line-height:20px;color:#ffffff;white-space:nowrap;-webkit-text-stroke:0.5px #ffffff;left:972.43px;transform:scaleX(0.9576);transform-origin:0 0;">Tiền gửi</span>
<span id="t3" style="position:absolute;top:80.36px;font-size:10.5px;line-height:20px;color:#8a8a8a;white-space:nowrap;left:192.94px;transform:scaleX(0.9250);transform-origin:0 0;">Cổng thông tin chính</span>
<span id="t4" style="position:absolute;top:80.36px;font-size:10.5px;line-height:20px;color:#8a8a8a;white-space:nowrap;left:323.16px;transform:scaleX(0.9046);transform-origin:0 0;">Yêu thích</span>
<span id="t5" style="position:absolute;top:80.36px;font-size:10.5px;line-height:20px;color:#8a8a8a;white-space:nowrap;left:384.94px;transform:scaleX(0.9312);transform-origin:0 0;">Tiền điện tử</span>
<span id="t6" style="position:absolute;top:80.36px;font-size:10.5px;line-height:20px;color:#f0f0f0;white-space:nowrap;-webkit-text-stroke:0.5px #f0f0f0;left:458.33px;transform:scaleX(0.9487);transform-origin:0 0;">Chỉ số</span>
<span id="t7" style="position:absolute;top:80.36px;font-size:10.5px;line-height:20px;color:#8a8a8a;white-space:nowrap;left:507.16px;transform:scaleX(0.9075);transform-origin:0 0;">Dầu khí</span>
<span id="t8" style="position:absolute;top:80.36px;font-size:10.5px;line-height:20px;color:#8a8a8a;white-space:nowrap;left:561.74px;transform:scaleX(0.9379);transform-origin:0 0;">Kim loại</span>
<span id="t9" style="position:absolute;top:80.36px;font-size:10.5px;line-height:20px;color:#8a8a8a;white-space:nowrap;left:618.65px;transform:scaleX(0.9146);transform-origin:0 0;">Cổ phiếu</span>
<span id="t10" style="position:absolute;top:80.36px;font-size:10.5px;line-height:20px;color:#8a8a8a;white-space:nowrap;left:678.64px;transform:scaleX(0.9345);transform-origin:0 0;">Tiền tệ</span>
<span id="t11" style="position:absolute;top:80.36px;font-size:10.5px;line-height:20px;color:#8a8a8a;white-space:nowrap;left:730.15px;transform:scaleX(0.9224);transform-origin:0 0;">Nông nghiệp</span>
<span id="t12" style="position:absolute;top:80.36px;font-size:10.5px;line-height:20px;color:#8a8a8a;white-space:nowrap;left:806.67px;transform:scaleX(0.8889);transform-origin:0 0;">ETF</span>
<span id="t13" style="position:absolute;top:80.36px;font-size:10.5px;line-height:20px;color:#8a8a8a;white-space:nowrap;left:845.55px;transform:scaleX(0.9229);transform-origin:0 0;">Trái phiếu</span>
<span id="t14" style="position:absolute;top:80.36px;font-size:10.5px;line-height:20px;color:#8a8a8a;white-space:nowrap;left:909.55px;transform:scaleX(0.9116);transform-origin:0 0;">Người khác</span>
<span id="t15" style="position:absolute;top:113.99px;font-size:26px;line-height:20px;color:#dadada;white-space:nowrap;left:193.41px;transform:scaleX(0.9915);transform-origin:0 0;">Chỉ số</span>
<span id="t16" style="position:absolute;top:120.50px;font-size:13px;line-height:20px;color:#8d8d8d;white-space:nowrap;left:284.98px;transform:scaleX(0.8730);transform-origin:0 0;">Theo quốc gia</span>
<span id="t17" style="position:absolute;top:120.50px;font-size:13px;line-height:20px;color:#f0f0f0;white-space:nowrap;-webkit-text-stroke:0.5px #f0f0f0;left:379.57px;transform:scaleX(0.8875);transform-origin:0 0;">Không nhóm</span>
<span id="t18" style="position:absolute;top:154.73px;font-size:10px;line-height:20px;color:#5f6062;white-space:nowrap;left:203.42px;transform:scaleX(0.9662);transform-origin:0 0;">Chỉ số</span>
<span id="t19" style="position:absolute;top:154.73px;font-size:10px;line-height:20px;color:#5f6062;white-space:nowrap;right:996.40px;transform:scaleX(0.9510);transform-origin:100% 0;">Giá</span>
<span id="t20" style="position:absolute;top:154.73px;font-size:10px;line-height:20px;color:#f0f0f0;white-space:nowrap;-webkit-text-stroke:0.5px #f0f0f0;left:562.11px;transform:scaleX(0.9803);transform-origin:0 0;">Ngày</span>
<span id="t21" style="position:absolute;top:154.73px;font-size:10px;line-height:20px;color:#5f6062;white-space:nowrap;left:602.63px;transform:scaleX(0.9560);transform-origin:0 0;">Sức mạnh của chuyển động</span>
<span id="t22" style="position:absolute;top:154.73px;font-size:10px;line-height:20px;color:#5f6062;white-space:nowrap;left:787.32px;transform:scaleX(0.9626);transform-origin:0 0;">Tháng</span>
<span id="t23" style="position:absolute;top:154.73px;font-size:10px;line-height:20px;color:#5f6062;white-space:nowrap;left:856.12px;transform:scaleX(0.9660);transform-origin:0 0;">Nửa năm</span>
<span id="t24" style="position:absolute;top:154.73px;font-size:10px;line-height:20px;color:#5f6062;white-space:nowrap;left:956.39px;transform:scaleX(1.0225);transform-origin:0 0;">Năm</span>
<span id="t25" style="position:absolute;top:191.74px;font-size:12px;line-height:20px;color:#e6e6e6;white-space:nowrap;-webkit-text-stroke:0.3px #e6e6e6;left:220.93px;transform:scaleX(0.9470);transform-origin:0 0;">Chỉ số biến động</span>
<span id="t26" style="position:absolute;top:189.94px;font-size:12px;line-height:20px;color:#e8e8e8;white-space:nowrap;-webkit-text-stroke:0.3px #e8e8e8;right:995.90px;transform:scaleX(0.9450);transform-origin:100% 0;">20.17</span>
<span id="t27" style="position:absolute;top:189.94px;font-size:12px;line-height:20px;color:#5fa24a;white-space:nowrap;right:914.10px;transform:scaleX(0.9000);transform-origin:100% 0;">11,89%</span>
<span id="t28" style="position:absolute;top:189.94px;font-size:12px;line-height:20px;color:#5fa24a;white-space:nowrap;right:683.90px;transform:scaleX(0.9000);transform-origin:100% 0;">8,01%</span>
<span id="t29" style="position:absolute;top:189.94px;font-size:12px;line-height:20px;color:#5fa24a;white-space:nowrap;right:601.90px;transform:scaleX(0.9000);transform-origin:100% 0;">15,73%</span>
<span id="t30" style="position:absolute;top:189.94px;font-size:12px;line-height:20px;color:#5fa24a;white-space:nowrap;right:519.60px;transform:scaleX(0.9000);transform-origin:100% 0;">14,29%</span>
<span id="t31" style="position:absolute;top:226.61px;font-size:12px;line-height:20px;color:#e6e6e6;white-space:nowrap;-webkit-text-stroke:0.3px #e6e6e6;left:220.93px;transform:scaleX(0.9470);transform-origin:0 0;">Tiền mặt FTSE 100</span>
<span id="t32" style="position:absolute;top:224.81px;font-size:12px;line-height:20px;color:#f0f0f0;white-space:nowrap;-webkit-text-stroke:0.3px #f0f0f0;right:995.90px;transform:scaleX(0.9450);transform-origin:100% 0;">9 083.9</span>
<span id="t33" style="position:absolute;top:224.81px;font-size:12px;line-height:20px;color:#d5534a;white-space:nowrap;right:914.10px;transform:scaleX(0.9000);transform-origin:100% 0;">-0.26%</span>
<span id="t34" style="position:absolute;top:224.81px;font-size:12px;line-height:20px;color:#5fa24a;white-space:nowrap;right:683.90px;transform:scaleX(0.9000);transform-origin:100% 0;">3.37%</span>
<span id="t35" style="position:absolute;top:224.81px;font-size:12px;line-height:20px;color:#5fa24a;white-space:nowrap;right:601.90px;transform:scaleX(0.9000);transform-origin:100% 0;">5.17%</span>
<span id="t36" style="position:absolute;top:224.81px;font-size:12px;line-height:20px;color:#5fa24a;white-space:nowrap;right:519.60px;transform:scaleX(0.9000);transform-origin:100% 0;">9.56%</span>
<span id="t37" style="position:absolute;top:261.48px;font-size:12px;line-height:20px;color:#e6e6e6;white-space:nowrap;-webkit-text-stroke:0.3px #e6e6e6;left:220.93px;transform:scaleX(0.9470);transform-origin:0 0;">FTSE 100</span>
<span id="t38" style="position:absolute;top:259.68px;font-size:12px;line-height:20px;color:#e8e8e8;white-space:nowrap;-webkit-text-stroke:0.3px #e8e8e8;right:995.90px;transform:scaleX(0.9450);transform-origin:100% 0;">9 074.0</span>
<span id="t39" style="position:absolute;top:259.68px;font-size:12px;line-height:20px;color:#d5534a;white-space:nowrap;right:914.10px;transform:scaleX(0.9000);transform-origin:100% 0;">-0,29%</span>
<span id="t40" style="position:absolute;top:259.68px;font-size:12px;line-height:20px;color:#5fa24a;white-space:nowrap;right:683.90px;transform:scaleX(0.9000);transform-origin:100% 0;">3,05%</span>
<span id="t41" style="position:absolute;top:259.68px;font-size:12px;line-height:20px;color:#5fa24a;white-space:nowrap;right:601.90px;transform:scaleX(0.9000);transform-origin:100% 0;">5,25%</span>
<span id="t42" style="position:absolute;top:259.68px;font-size:12px;line-height:20px;color:#5fa24a;white-space:nowrap;right:519.60px;transform:scaleX(0.9000);transform-origin:100% 0;">9,44%</span>
<span id="t43" style="position:absolute;top:296.35px;font-size:12px;line-height:20px;color:#e6e6e6;white-space:nowrap;-webkit-text-stroke:0.3px #e6e6e6;left:220.93px;transform:scaleX(0.9470);transform-origin:0 0;">Tiền mặt A50 của Trung Quốc</span>
<span id="t44" style="position:absolute;top:294.55px;font-size:12px;line-height:20px;color:#e8e8e8;white-space:nowrap;-webkit-text-stroke:0.3px #e8e8e8;right:995.90px;transform:scaleX(0.9450);transform-origin:100% 0;">13 580,80</span>
<span id="t45" style="position:absolute;top:294.55px;font-size:12px;line-height:20px;color:#d5534a;white-space:nowrap;right:914.10px;transform:scaleX(0.9000);transform-origin:100% 0;">-0,91%</span>
<span id="t46" style="position:absolute;top:294.55px;font-size:12px;line-height:20px;color:#5fa24a;white-space:nowrap;right:683.90px;transform:scaleX(0.9000);transform-origin:100% 0;">0,50%</span>
<span id="t47" style="position:absolute;top:294.55px;font-size:12px;line-height:20px;color:#5fa24a;white-space:nowrap;right:601.90px;transform:scaleX(0.9000);transform-origin:100% 0;">4,59%</span>
<span id="t48" style="position:absolute;top:294.55px;font-size:12px;line-height:20px;color:#5fa24a;white-space:nowrap;right:519.60px;transform:scaleX(0.9000);transform-origin:100% 0;">16,18%</span>
<span id="t49" style="position:absolute;top:331.22px;font-size:12px;line-height:20px;color:#e6e6e6;white-space:nowrap;-webkit-text-stroke:0.3px #e6e6e6;left:220.93px;transform:scaleX(0.9470);transform-origin:0 0;">Chỉ số đô la Mỹ tiền mặt</span>
<span id="t50" style="position:absolute;top:329.42px;font-size:12px;line-height:20px;color:#e8e8e8;white-space:nowrap;-webkit-text-stroke:0.3px #e8e8e8;right:995.90px;transform:scaleX(0.9450);transform-origin:100% 0;">99.103</span>
<span id="t51" style="position:absolute;top:329.42px;font-size:12px;line-height:20px;color:#d5534a;white-space:nowrap;right:914.10px;transform:scaleX(0.9000);transform-origin:100% 0;">-0,94%</span>
<span id="t52" style="position:absolute;top:329.42px;font-size:12px;line-height:20px;color:#5fa24a;white-space:nowrap;right:683.90px;transform:scaleX(0.9000);transform-origin:100% 0;">2,54%</span>
<span id="t53" style="position:absolute;top:329.42px;font-size:12px;line-height:20px;color:#d5534a;white-space:nowrap;right:601.90px;transform:scaleX(0.9000);transform-origin:100% 0;">-8,54%</span>
<span id="t54" style="position:absolute;top:329.42px;font-size:12px;line-height:20px;color:#d5534a;white-space:nowrap;right:519.60px;transform:scaleX(0.9000);transform-origin:100% 0;">-4,82%</span>
<span id="t55" style="position:absolute;top:366.09px;font-size:12px;line-height:20px;color:#e6e6e6;white-space:nowrap;-webkit-text-stroke:0.3px #e6e6e6;left:220.93px;transform:scaleX(0.9470);transform-origin:0 0;">DJ Mỹ 30</span>
<span id="t56" style="position:absolute;top:364.29px;font-size:12px;line-height:20px;color:#f0f0f0;white-space:nowrap;-webkit-text-stroke:0.3px #f0f0f0;right:995.90px;transform:scaleX(0.9450);transform-origin:100% 0;">43 609</span>
<span id="t57" style="position:absolute;top:364.29px;font-size:12px;line-height:20px;color:#d5534a;white-space:nowrap;right:914.10px;transform:scaleX(0.9000);transform-origin:100% 0;">-1.47%</span>
<span id="t58" style="position:absolute;top:364.29px;font-size:12px;line-height:20px;color:#d5534a;white-space:nowrap;right:683.90px;transform:scaleX(0.9000);transform-origin:100% 0;">-2.72%</span>
<span id="t59" style="position:absolute;top:364.29px;font-size:12px;line-height:20px;color:#d5534a;white-space:nowrap;right:601.90px;transform:scaleX(0.9000);transform-origin:100% 0;">-2.41%</span>
<span id="t60" style="position:absolute;top:364.29px;font-size:12px;line-height:20px;color:#5fa24a;white-space:nowrap;right:519.60px;transform:scaleX(0.9000);transform-origin:100% 0;">7.87%</span>
<span id="t61" style="position:absolute;top:400.96px;font-size:12px;line-height:20px;color:#e6e6e6;white-space:nowrap;-webkit-text-stroke:0.3px #e6e6e6;left:220.93px;transform:scaleX(0.9470);transform-origin:0 0;">DJ Mỹ 30 Tiền mặt</span>
<span id="t62" style="position:absolute;top:399.16px;font-size:12px;line-height:20px;color:#f0f0f0;white-space:nowrap;-webkit-text-stroke:0.3px #f0f0f0;right:995.90px;transform:scaleX(0.9450);transform-origin:100% 0;">43 461</span>
<span id="t63" style="position:absolute;top:399.16px;font-size:12px;line-height:20px;color:#d5534a;white-space:nowrap;right:914.10px;transform:scaleX(0.9000);transform-origin:100% 0;">-1.47%</span>
<span id="t64" style="position:absolute;top:399.16px;font-size:12px;line-height:20px;color:#d5534a;white-space:nowrap;right:683.90px;transform:scaleX(0.9000);transform-origin:100% 0;">-2.38%</span>
<span id="t65" style="position:absolute;top:399.16px;font-size:12px;line-height:20px;color:#d5534a;white-space:nowrap;right:601.90px;transform:scaleX(0.9000);transform-origin:100% 0;">-2.39%</span>
<span id="t66" style="position:absolute;top:399.16px;font-size:12px;line-height:20px;color:#5fa24a;white-space:nowrap;right:519.60px;transform:scaleX(0.9000);transform-origin:100% 0;">8.00%</span>
<span id="t67" style="position:absolute;top:435.83px;font-size:12px;line-height:20px;color:#e6e6e6;white-space:nowrap;-webkit-text-stroke:0.3px #e6e6e6;left:220.93px;transform:scaleX(0.9470);transform-origin:0 0;">Tiền mặt SPX 500 của Hoa Kỳ</span>
<span id="t68" style="position:absolute;top:434.03px;font-size:12px;line-height:20px;color:#f0f0f0;white-space:nowrap;-webkit-text-stroke:0.3px #f0f0f0;right:995.90px;transform:scaleX(0.9450);transform-origin:100% 0;">6 227.9</span>
<span id="t69" style="position:absolute;top:434.03px;font-size:12px;line-height:20px;color:#d5534a;white-space:nowrap;right:914.10px;transform:scaleX(0.9000);transform-origin:100% 0;">-1.72%</span>
<span id="t70" style="position:absolute;top:434.03px;font-size:12px;line-height:20px;color:#5fa24a;white-space:nowrap;right:683.90px;transform:scaleX(0.9000);transform-origin:100% 0;">0.48%</span>
<span id="t71" style="position:absolute;top:434.03px;font-size:12px;line-height:20px;color:#5fa24a;white-space:nowrap;right:601.90px;transform:scaleX(0.9000);transform-origin:100% 0;">3.21%</span>
<span id="t72" style="position:absolute;top:434.03px;font-size:12px;line-height:20px;color:#5fa24a;white-space:nowrap;right:519.60px;transform:scaleX(0.9000);transform-origin:100% 0;">14.54%</span>
<span id="t73" style="position:absolute;top:470.70px;font-size:12px;line-height:20px;color:#e6e6e6;white-space:nowrap;-webkit-text-stroke:0.3px #e6e6e6;left:220.93px;transform:scaleX(0.9470);transform-origin:0 0;">SPX 500 của Mỹ</span>
<span id="t74" style="position:absolute;top:468.90px;font-size:12px;line-height:20px;color:#e8e8e8;white-space:nowrap;-webkit-text-stroke:0.3px #e8e8e8;right:995.90px;transform:scaleX(0.9450);transform-origin:100% 0;">6 256,26</span>
<span id="t75" style="position:absolute;top:468.90px;font-size:12px;line-height:20px;color:#d5534a;white-space:nowrap;right:914.10px;transform:scaleX(0.9000);transform-origin:100% 0;">-1,77%</span>
<span id="t76" style="position:absolute;top:468.90px;font-size:12px;line-height:20px;color:#5fa24a;white-space:nowrap;right:683.90px;transform:scaleX(0.9000);transform-origin:100% 0;">0,12%</span>
<span id="t77" style="position:absolute;top:468.90px;font-size:12px;line-height:20px;color:#5fa24a;white-space:nowrap;right:601.90px;transform:scaleX(0.9000);transform-origin:100% 0;">3,19%</span>
<span id="t78" style="position:absolute;top:468.90px;font-size:12px;line-height:20px;color:#5fa24a;white-space:nowrap;right:519.60px;transform:scaleX(0.9000);transform-origin:100% 0;">14,35%</span>
<span id="t79" style="position:absolute;top:505.57px;font-size:12px;line-height:20px;color:#e6e6e6;white-space:nowrap;-webkit-text-stroke:0.3px #e6e6e6;left:220.93px;transform:scaleX(0.9470);transform-origin:0 0;">AEX</span>
<span id="t80" style="position:absolute;top:503.77px;font-size:12px;line-height:20px;color:#e8e8e8;white-space:nowrap;-webkit-text-stroke:0.3px #e8e8e8;right:995.90px;transform:scaleX(0.9450);transform-origin:100% 0;">880,64</span>
<span id="t81" style="position:absolute;top:503.77px;font-size:12px;line-height:20px;color:#d5534a;white-space:nowrap;right:914.10px;transform:scaleX(0.9000);transform-origin:100% 0;">-1,76%</span>
<span id="t82" style="position:absolute;top:503.77px;font-size:12px;line-height:20px;color:#d5534a;white-space:nowrap;right:683.90px;transform:scaleX(0.9000);transform-origin:100% 0;">-3,43%</span>
<span id="t83" style="position:absolute;top:503.77px;font-size:12px;line-height:20px;color:#d5534a;white-space:nowrap;right:601.90px;transform:scaleX(0.9000);transform-origin:100% 0;">-3,95%</span>
<span id="t84" style="position:absolute;top:503.77px;font-size:12px;line-height:20px;color:#d5534a;white-space:nowrap;right:519.60px;transform:scaleX(0.9000);transform-origin:100% 0;">-2,54%</span>
<span id="t85" style="position:absolute;top:540.44px;font-size:12px;line-height:20px;color:#e6e6e6;white-space:nowrap;-webkit-text-stroke:0.3px #e6e6e6;left:220.93px;transform:scaleX(0.9470);transform-origin:0 0;">Chỉ số Hang Seng Tiền mặt</span>
<span id="t86" style="position:absolute;top:538.64px;font-size:12px;line-height:20px;color:#e8e8e8;white-space:nowrap;-webkit-text-stroke:0.3px #e8e8e8;right:995.90px;transform:scaleX(0.9450);transform-origin:100% 0;">24 272</span>
<span id="t87" style="position:absolute;top:538.64px;font-size:12px;line-height:20px;color:#d5534a;white-space:nowrap;right:914.10px;transform:scaleX(0.9000);transform-origin:100% 0;">-1,82%</span>
<span id="t88" style="position:absolute;top:538.64px;font-size:12px;line-height:20px;color:#5fa24a;white-space:nowrap;right:683.90px;transform:scaleX(0.9000);transform-origin:100% 0;">0,45%</span>
<span id="t89" style="position:absolute;top:538.64px;font-size:12px;line-height:20px;color:#5fa24a;white-space:nowrap;right:601.90px;transform:scaleX(0.9000);transform-origin:100% 0;">18,50%</span>
<span id="t90" style="position:absolute;top:538.64px;font-size:12px;line-height:20px;color:#5fa24a;white-space:nowrap;right:519.60px;transform:scaleX(0.9000);transform-origin:100% 0;">42,46%</span>
<span id="t91" style="position:absolute;top:575.31px;font-size:12px;line-height:20px;color:#e6e6e6;white-space:nowrap;-webkit-text-stroke:0.3px #e6e6e6;left:220.93px;transform:scaleX(0.9470);transform-origin:0 0;">Tiền mặt NDAQ 100 của Hoa Kỳ</span>
<span id="t92" style="position:absolute;top:573.51px;font-size:12px;line-height:20px;color:#f0f0f0;white-space:nowrap;-webkit-text-stroke:0.3px #f0f0f0;right:995.90px;transform:scaleX(0.9450);transform-origin:100% 0;">22 739.0</span>
<span id="t93" style="position:absolute;top:573.51px;font-size:12px;line-height:20px;color:#d5534a;white-space:nowrap;right:914.10px;transform:scaleX(0.9000);transform-origin:100% 0;">-1.96%</span>
<span id="t94" style="position:absolute;top:573.51px;font-size:12px;line-height:20px;color:#5fa24a;white-space:nowrap;right:683.90px;transform:scaleX(0.9000);transform-origin:100% 0;">1.15%</span>
<span id="t95" style="position:absolute;top:573.51px;font-size:12px;line-height:20px;color:#5fa24a;white-space:nowrap;right:601.90px;transform:scaleX(0.9000);transform-origin:100% 0;">6.06%</span>
<span id="t96" style="position:absolute;top:573.51px;font-size:12px;line-height:20px;color:#5fa24a;white-space:nowrap;right:519.60px;transform:scaleX(0.9000);transform-origin:100% 0;">20.75%</span>
<span id="t97" style="position:absolute;top:610.18px;font-size:12px;line-height:20px;color:#e6e6e6;white-space:nowrap;-webkit-text-stroke:0.3px #e6e6e6;left:220.93px;transform:scaleX(0.9470);transform-origin:0 0;">NDAQ 100 của Hoa Kỳ</span>
<span id="t98" style="position:absolute;top:608.38px;font-size:12px;line-height:20px;color:#f0f0f0;white-space:nowrap;-webkit-text-stroke:0.3px #f0f0f0;right:995.90px;transform:scaleX(0.9450);transform-origin:100% 0;">22 869.50</span>
<span id="t99" style="position:absolute;top:608.38px;font-size:12px;line-height:20px;color:#d5534a;white-space:nowrap;right:914.10px;transform:scaleX(0.9000);transform-origin:100% 0;">-1.96%</span>
<span id="t100" style="position:absolute;top:608.38px;font-size:12px;line-height:20px;color:#5fa24a;white-space:nowrap;right:683.90px;transform:scaleX(0.9000);transform-origin:100% 0;">0.78%</span>
<span id="t101" style="position:absolute;top:608.38px;font-size:12px;line-height:20px;color:#5fa24a;white-space:nowrap;right:601.90px;transform:scaleX(0.9000);transform-origin:100% 0;">6.09%</span>
<span id="t102" style="position:absolute;top:608.38px;font-size:12px;line-height:20px;color:#5fa24a;white-space:nowrap;right:519.60px;transform:scaleX(0.9000);transform-origin:100% 0;">20.56%</span>
<span id="t103" style="position:absolute;top:645.05px;font-size:12px;line-height:20px;color:#e6e6e6;white-space:nowrap;-webkit-text-stroke:0.3px #e6e6e6;left:220.93px;transform:scaleX(0.9470);transform-origin:0 0;">Tiền mặt năm 2000 của Hoa Kỳ</span>
<span id="t104" style="position:absolute;top:643.25px;font-size:12px;line-height:20px;color:#f0f0f0;white-space:nowrap;-webkit-text-stroke:0.3px #f0f0f0;right:995.90px;transform:scaleX(0.9450);transform-origin:100% 0;">2 163.1</span>
<span id="t105" style="position:absolute;top:643.25px;font-size:12px;line-height:20px;color:#d5534a;white-space:nowrap;right:914.10px;transform:scaleX(0.9000);transform-origin:100% 0;">-2.06%</span>
<span id="t106" style="position:absolute;top:643.25px;font-size:12px;line-height:20px;color:#d5534a;white-space:nowrap;right:683.90px;transform:scaleX(0.9000);transform-origin:100% 0;">-1.61%</span>
<span id="t107" style="position:absolute;top:643.25px;font-size:12px;line-height:20px;color:#d5534a;white-space:nowrap;right:601.90px;transform:scaleX(0.9000);transform-origin:100% 0;">-5.64%</span>
<span id="t108" style="position:absolute;top:643.25px;font-size:12px;line-height:20px;color:#d5534a;white-space:nowrap;right:519.60px;transform:scaleX(0.9000);transform-origin:100% 0;">-1.57%</span>
<span id="t109" style="position:absolute;top:679.92px;font-size:12px;line-height:20px;color:#e6e6e6;white-space:nowrap;-webkit-text-stroke:0.3px #e6e6e6;left:220.93px;transform:scaleX(0.9470);transform-origin:0 0;">Nikkei 225</span>
<span id="t110" style="position:absolute;top:678.12px;font-size:12px;line-height:20px;color:#e8e8e8;white-space:nowrap;-webkit-text-stroke:0.3px #e8e8e8;right:995.90px;transform:scaleX(0.9450);transform-origin:100% 0;">39 950</span>
<span id="t111" style="position:absolute;top:678.12px;font-size:12px;line-height:20px;color:#d5534a;white-space:nowrap;right:914.10px;transform:scaleX(0.9000);transform-origin:100% 0;">-2,05%</span>
<span id="t112" style="position:absolute;top:678.12px;font-size:12px;line-height:20px;color:#5fa24a;white-space:nowrap;right:683.90px;transform:scaleX(0.9000);transform-origin:100% 0;">0,97%</span>
<span id="t113" style="position:absolute;top:678.12px;font-size:12px;line-height:20px;color:#5fa24a;white-space:nowrap;right:601.90px;transform:scaleX(0.9000);transform-origin:100% 0;">1,64%</span>
<span id="t114" style="position:absolute;top:678.12px;font-size:12px;line-height:20px;color:#5fa24a;white-space:nowrap;right:519.60px;transform:scaleX(0.9000);transform-origin:100% 0;">8,72%</span>
<span id="t115" style="position:absolute;top:714.79px;font-size:12px;line-height:20px;color:#e6e6e6;white-space:nowrap;-webkit-text-stroke:0.3px #e6e6e6;left:220.93px;transform:scaleX(0.9470);transform-origin:0 0;">Nikkei 225 Tiền mặt</span>
<span id="t116" style="position:absolute;top:712.99px;font-size:12px;line-height:20px;color:#e8e8e8;white-space:nowrap;-webkit-text-stroke:0.3px #e8e8e8;right:995.90px;transform:scaleX(0.9450);transform-origin:100% 0;">39 951</span>
<span id="t117" style="position:absolute;top:712.99px;font-size:12px;line-height:20px;color:#d5534a;white-space:nowrap;right:914.10px;transform:scaleX(0.9000);transform-origin:100% 0;">-2,06%</span>
<span id="t118" style="position:absolute;top:712.99px;font-size:12px;line-height:20px;color:#5fa24a;white-space:nowrap;right:683.90px;transform:scaleX(0.9000);transform-origin:100% 0;">0,97%</span>
<span id="t119" style="position:absolute;top:712.99px;font-size:12px;line-height:20px;color:#5fa24a;white-space:nowrap;right:601.90px;transform:scaleX(0.9000);transform-origin:100% 0;">1,64%</span>
<span id="t120" style="position:absolute;top:712.99px;font-size:12px;line-height:20px;color:#5fa24a;white-space:nowrap;right:519.60px;transform:scaleX(0.9000);transform-origin:100% 0;">8,81%</span>
<span id="t121" style="position:absolute;top:749.66px;font-size:12px;line-height:20px;color:#e6e6e6;white-space:nowrap;-webkit-text-stroke:0.3px #e6e6e6;left:220.93px;transform:scaleX(0.9470);transform-origin:0 0;">Tiền mặt DAX</span>
<span id="t122" style="position:absolute;top:747.86px;font-size:12px;line-height:20px;color:#f0f0f0;white-space:nowrap;-webkit-text-stroke:0.3px #f0f0f0;right:995.90px;transform:scaleX(0.9450);transform-origin:100% 0;">23 401.6</span>
<span id="t123" style="position:absolute;top:747.86px;font-size:12px;line-height:20px;color:#d5534a;white-space:nowrap;right:914.10px;transform:scaleX(0.9000);transform-origin:100% 0;">-2.51%</span>
<span id="t124" style="position:absolute;top:747.86px;font-size:12px;line-height:20px;color:#d5534a;white-space:nowrap;right:683.90px;transform:scaleX(0.9000);transform-origin:100% 0;">-1.29%</span>
<span id="t125" style="position:absolute;top:747.86px;font-size:12px;line-height:20px;color:#5fa24a;white-space:nowrap;right:601.90px;transform:scaleX(0.9000);transform-origin:100% 0;">8.21%</span>
<span id="t126" style="position:absolute;top:747.86px;font-size:12px;line-height:20px;color:#5fa24a;white-space:nowrap;right:519.60px;transform:scaleX(0.9000);transform-origin:100% 0;">29.73%</span>
<span id="t127" style="position:absolute;top:784.53px;font-size:12px;line-height:20px;color:#e6e6e6;white-space:nowrap;-webkit-text-stroke:0.3px #e6e6e6;left:220.93px;transform:scaleX(0.9470);transform-origin:0 0;">DAX</span>
<span id="t128" style="position:absolute;top:782.73px;font-size:12px;line-height:20px;color:#e8e8e8;white-space:nowrap;-webkit-text-stroke:0.3px #e8e8e8;right:995.90px;transform:scaleX(0.9450);transform-origin:100% 0;">23 473,2</span>
<span id="t129" style="position:absolute;top:782.73px;font-size:12px;line-height:20px;color:#d5534a;white-space:nowrap;right:914.10px;transform:scaleX(0.9000);transform-origin:100% 0;">-2,51%</span>
<span id="t130" style="position:absolute;top:782.73px;font-size:12px;line-height:20px;color:#d5534a;white-space:nowrap;right:683.90px;transform:scaleX(0.9000);transform-origin:100% 0;">-1,46%</span>
<span id="t131" style="position:absolute;top:782.73px;font-size:12px;line-height:20px;color:#5fa24a;white-space:nowrap;right:601.90px;transform:scaleX(0.9000);transform-origin:100% 0;">8,02%</span>
<span id="t132" style="position:absolute;top:782.73px;font-size:12px;line-height:20px;color:#5fa24a;white-space:nowrap;right:519.60px;transform:scaleX(0.9000);transform-origin:100% 0;">29,47%</span>
<span id="t133" style="position:absolute;top:92.83px;font-size:10px;line-height:20px;color:#a5a5a5;white-space:nowrap;left:1080.74px;transform:scaleX(0.9300);transform-origin:0 0;">Tài khoản :</span>
<span id="t134" style="position:absolute;top:113.84px;font-size:12px;line-height:20px;color:#f2f2f2;white-space:nowrap;-webkit-text-stroke:0.3px #f2f2f2;left:1115.22px;transform:scaleX(0.9590);transform-origin:0 0;">Libertex: Thật</span>
<span id="t135" style="position:absolute;top:155.53px;font-size:10px;line-height:20px;color:#9c9c9c;white-space:nowrap;-webkit-text-stroke:0.5px #9c9c9c;left:1083.75px;transform:scaleX(0.9127);transform-origin:0 0;">SỰ CÂN BẰNG</span>
<span id="t136" style="position:absolute;top:185.64px;font-size:12px;line-height:20px;color:#eaeaea;white-space:nowrap;-webkit-text-stroke:0.3px #eaeaea;left:1074.94px;transform:scaleX(0.9347);transform-origin:0 0;">Sự cân bằng</span>
<span id="t137" style="position:absolute;top:185.64px;font-size:12px;line-height:20px;color:#eaeaea;white-space:nowrap;-webkit-text-stroke:0.3px #eaeaea;right:206.80px;transform:scaleX(0.9420);transform-origin:100% 0;">0,00 đô la</span>
<span id="t138" style="position:absolute;top:237.14px;font-size:12px;line-height:20px;color:#a3a3a3;white-space:nowrap;left:1094.93px;transform:scaleX(0.9486);transform-origin:0 0;">Nạp tiền vào tài khoản Libertex của</span>
<span id="t139" style="position:absolute;top:252.34px;font-size:12px;line-height:20px;color:#a3a3a3;white-space:nowrap;left:1121.43px;transform:scaleX(0.9582);transform-origin:0 0;">bạn để bắt đầu giao dịch</span>
<span id="t140" style="position:absolute;top:284.84px;font-size:12px;line-height:20px;color:#a3a3a3;white-space:nowrap;left:1125.03px;transform:scaleX(0.9487);transform-origin:0 0;">Nạp tiền vào tài khoản của bạn</span>
<span id="t141" style="position:absolute;top:341.24px;font-size:10px;line-height:20px;color:#9c9c9c;white-space:nowrap;-webkit-text-stroke:0.5px #9c9c9c;left:1083.96px;transform:scaleX(0.8978);transform-origin:0 0;">GIAO DỊCH TÍCH CỰC</span>
<span id="t142" style="position:absolute;top:368.54px;font-size:10px;line-height:20px;color:#8a8a8a;white-space:nowrap;left:1075.42px;transform:scaleX(0.9611);transform-origin:0 0;">Dụng cụ</span>
<span id="t143" style="position:absolute;top:368.54px;font-size:10px;line-height:20px;color:#8a8a8a;white-space:nowrap;left:1157.05px;transform:scaleX(0.9124);transform-origin:0 0;">Giá</span>
<span id="t144" style="position:absolute;top:368.54px;font-size:10px;line-height:20px;color:#8a8a8a;white-space:nowrap;left:1220.42px;transform:scaleX(0.9636);transform-origin:0 0;">Lợi nhuận</span>
<span id="t145" style="position:absolute;top:369.14px;font-size:10px;line-height:20px;color:#d8d8d8;white-space:nowrap;-webkit-text-stroke:0.3px #d8d8d8;left:1272.90px;transform:scaleX(1.1685);transform-origin:0 0;">$</span>
<span id="t146" style="position:absolute;top:368.94px;font-size:10px;line-height:20px;color:#b8b8b8;white-space:nowrap;-webkit-text-stroke:0.3px #b8b8b8;left:1285.78px;transform:scaleX(0.8646);transform-origin:0 0;">%</span>
<span id="t147" style="position:absolute;top:402.84px;font-size:12px;line-height:20px;color:#9a9a9a;white-space:nowrap;left:1091.43px;transform:scaleX(0.9422);transform-origin:0 0;">Bạn chưa có giao dịch nào đang mở.</span>
<span id="t148" style="position:absolute;top:434.84px;font-size:12px;line-height:20px;color:#f2f2f2;white-space:nowrap;-webkit-text-stroke:0.5px #f2f2f2;left:1139.82px;transform:scaleX(0.9656);transform-origin:0 0;">Bắt đầu giao dịch</span>
<span id="t149" style="position:absolute;top:495.84px;font-size:12px;line-height:20px;color:#f2f2f2;white-space:nowrap;-webkit-text-stroke:0.5px #f2f2f2;left:1137.42px;transform:scaleX(0.9646);transform-origin:0 0;">Giao dịch đã đóng</span>
<span id="t150" style="position:absolute;top:528.24px;font-size:10px;line-height:20px;color:#9c9c9c;white-space:nowrap;-webkit-text-stroke:0.5px #9c9c9c;left:1084.06px;transform:scaleX(0.9066);transform-origin:0 0;">YÊU THÍCH</span>
<span id="t151" style="position:absolute;top:555.53px;font-size:10px;line-height:20px;color:#8a8a8a;white-space:nowrap;left:1094.22px;transform:scaleX(0.9611);transform-origin:0 0;">Dụng cụ</span>
<span id="t152" style="position:absolute;top:555.53px;font-size:10px;line-height:20px;color:#8a8a8a;white-space:nowrap;right:275.00px;transform:scaleX(0.9124);transform-origin:100% 0;">Giá</span>
<span id="t153" style="position:absolute;top:555.53px;font-size:10px;line-height:20px;color:#8a8a8a;white-space:nowrap;right:204.70px;transform:scaleX(0.9696);transform-origin:100% 0;">Hôm nay</span>
<span id="t154" style="position:absolute;top:580.34px;font-size:12.3px;line-height:20px;color:#ececec;white-space:nowrap;-webkit-text-stroke:0.3px #ececec;left:1094.53px;transform:scaleX(0.9500);transform-origin:0 0;">Vàng</span>
<span id="t155" style="position:absolute;top:580.34px;font-size:12.3px;line-height:20px;color:#f0f0f0;white-space:nowrap;-webkit-text-stroke:0.3px #f0f0f0;right:274.80px;transform:scaleX(1.0000);transform-origin:100% 0;">3 347.51</span>
<span id="t156" style="position:absolute;top:580.34px;font-size:12.3px;line-height:20px;color:#5fa24a;white-space:nowrap;right:204.50px;transform:scaleX(0.9200);transform-origin:100% 0;">1.74%</span>
<span id="t157" style="position:absolute;top:608.39px;font-size:12.3px;line-height:20px;color:#ececec;white-space:nowrap;-webkit-text-stroke:0.3px #ececec;left:1094.53px;transform:scaleX(0.9500);transform-origin:0 0;">EUR/USD</span>
<span id="t158" style="position:absolute;top:608.39px;font-size:12.3px;line-height:20px;color:#f0f0f0;white-space:nowrap;-webkit-text-stroke:0.3px #f0f0f0;right:274.80px;transform:scaleX(1.0000);transform-origin:100% 0;">1.15266</span>
<span id="t159" style="position:absolute;top:608.39px;font-size:12.3px;line-height:20px;color:#5fa24a;white-space:nowrap;right:204.50px;transform:scaleX(0.9200);transform-origin:100% 0;">0.98%</span>
<span id="t160" style="position:absolute;top:636.44px;font-size:12.3px;line-height:20px;color:#ececec;white-space:nowrap;-webkit-text-stroke:0.3px #ececec;left:1094.53px;transform:scaleX(0.9500);transform-origin:0 0;">Bitcoin</span>
<span id="t161" style="position:absolute;top:636.44px;font-size:12.3px;line-height:20px;color:#f0f0f0;white-space:nowrap;-webkit-text-stroke:0.3px #f0f0f0;right:274.80px;transform:scaleX(1.0000);transform-origin:100% 0;">114 582.54</span>
<span id="t162" style="position:absolute;top:636.44px;font-size:12.3px;line-height:20px;color:#d5534a;white-space:nowrap;right:204.50px;transform:scaleX(0.9200);transform-origin:100% 0;">-1.62%</span>
<span id="t163" style="position:absolute;top:664.49px;font-size:12.3px;line-height:20px;color:#ececec;white-space:nowrap;-webkit-text-stroke:0.3px #ececec;left:1094.53px;transform:scaleX(0.9500);transform-origin:0 0;">TRUMP CHÍNH ...</span>
<span id="t164" style="position:absolute;top:664.49px;font-size:12.3px;line-height:20px;color:#f0f0f0;white-space:nowrap;-webkit-text-stroke:0.3px #f0f0f0;right:274.80px;transform:scaleX(1.0000);transform-origin:100% 0;">8.728</span>
<span id="t165" style="position:absolute;top:664.49px;font-size:12.3px;line-height:20px;color:#d5534a;white-space:nowrap;right:204.50px;transform:scaleX(0.9200);transform-origin:100% 0;">-3.45%</span>
<span id="t166" style="position:absolute;top:692.54px;font-size:12.3px;line-height:20px;color:#ececec;white-space:nowrap;-webkit-text-stroke:0.3px #ececec;left:1094.53px;transform:scaleX(0.9500);transform-origin:0 0;">GBP/USD</span>
<span id="t167" style="position:absolute;top:692.54px;font-size:12.3px;line-height:20px;color:#f0f0f0;white-space:nowrap;-webkit-text-stroke:0.3px #f0f0f0;right:274.80px;transform:scaleX(1.0000);transform-origin:100% 0;">1.32253</span>
<span id="t168" style="position:absolute;top:692.54px;font-size:12.3px;line-height:20px;color:#5fa24a;white-space:nowrap;right:204.50px;transform:scaleX(0.9200);transform-origin:100% 0;">0.14%</span>
<span id="t169" style="position:absolute;top:720.59px;font-size:12.3px;line-height:20px;color:#ececec;white-space:nowrap;-webkit-text-stroke:0.3px #ececec;left:1094.53px;transform:scaleX(0.9500);transform-origin:0 0;">USD/JPY</span>
<span id="t170" style="position:absolute;top:720.59px;font-size:12.3px;line-height:20px;color:#f0f0f0;white-space:nowrap;-webkit-text-stroke:0.3px #f0f0f0;right:274.80px;transform:scaleX(1.0000);transform-origin:100% 0;">147.791</span>
<span id="t171" style="position:absolute;top:720.59px;font-size:12.3px;line-height:20px;color:#d5534a;white-space:nowrap;right:204.50px;transform:scaleX(0.9200);transform-origin:100% 0;">-1.96%</span>
<span id="t172" style="position:absolute;top:748.64px;font-size:12.3px;line-height:20px;color:#ececec;white-space:nowrap;-webkit-text-stroke:0.3px #ececec;left:1094.53px;transform:scaleX(0.9500);transform-origin:0 0;">XRP</span>
<span id="t173" style="position:absolute;top:748.64px;font-size:12.3px;line-height:20px;color:#f0f0f0;white-space:nowrap;-webkit-text-stroke:0.3px #f0f0f0;right:274.80px;transform:scaleX(1.0000);transform-origin:100% 0;">3.00000</span>
<span id="t174" style="position:absolute;top:748.64px;font-size:12.3px;line-height:20px;color:#d5534a;white-space:nowrap;right:204.50px;transform:scaleX(0.9200);transform-origin:100% 0;">-1.55%</span>
<span id="t175" style="position:absolute;top:776.69px;font-size:12.3px;line-height:20px;color:#ececec;white-space:nowrap;-webkit-text-stroke:0.3px #ececec;left:1094.53px;transform:scaleX(0.9500);transform-origin:0 0;">Ethereum</span>
<span id="t176" style="position:absolute;top:776.69px;font-size:12.3px;line-height:20px;color:#f0f0f0;white-space:nowrap;-webkit-text-stroke:0.3px #f0f0f0;right:274.80px;transform:scaleX(1.0000);transform-origin:100% 0;">3 571.557</span>
<span id="t177" style="position:absolute;top:776.69px;font-size:12.3px;line-height:20px;color:#d5534a;white-space:nowrap;right:204.50px;transform:scaleX(0.9200);transform-origin:100% 0;">-4.32%</span>
<div style="position:absolute;left:1387px;top:790px;font-family:'Liberation Sans';font-weight:700;font-size:14.5px;color:#fff;text-shadow:0 0 2px #000,0 0 2px #000,1px 1px 1px #000;letter-spacing:-0.1px;line-height:20px">binary-cfd.com</div>
</div></body></html>
